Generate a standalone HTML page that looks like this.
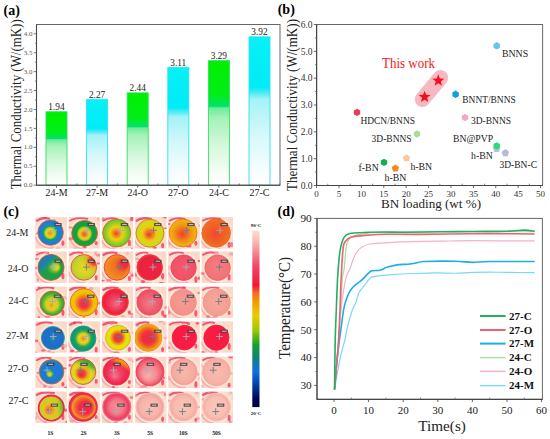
<!DOCTYPE html><html><head><meta charset="utf-8"><style>html,body{margin:0;padding:0;background:#fff;}svg{display:block;font-family:"Liberation Serif",serif;}</style></head><body><svg width="550" height="439" viewBox="0 0 550 439" font-family="Liberation Serif, serif">
<rect width="550" height="439" fill="#fff"/>
<defs>
<linearGradient id="barg" x1="0" y1="0" x2="0" y2="1"><stop offset="0" stop-color="#00f000"/><stop offset="0.28" stop-color="#00ee18"/><stop offset="0.365" stop-color="#00e070"/><stop offset="0.38" stop-color="#6cec98"/><stop offset="0.46" stop-color="#a4f2b8"/><stop offset="0.68" stop-color="#d4f8dc"/><stop offset="0.9" stop-color="#f6fdf6"/><stop offset="1" stop-color="#ffffff"/></linearGradient>
<linearGradient id="barc" x1="0" y1="0" x2="0" y2="1"><stop offset="0" stop-color="#08f0f8"/><stop offset="0.34" stop-color="#00ecf6"/><stop offset="0.37" stop-color="#40eaf4"/><stop offset="0.42" stop-color="#a4f2f8"/><stop offset="0.66" stop-color="#d6f8fa"/><stop offset="0.9" stop-color="#f6fdfe"/><stop offset="1" stop-color="#ffffff"/></linearGradient>
</defs>
<rect x="46.00" y="111.77" width="21.0" height="73.43" fill="url(#barg)" stroke="#30e060" stroke-width="0.9"/>
<text x="56.50" y="110.07" font-size="9.3" text-anchor="middle" fill="#222" font-weight="normal" >1.94</text>
<text x="56.50" y="196.30" font-size="10" text-anchor="middle" fill="#222" font-weight="normal" >24-M</text>
<line x1="56.50" y1="185.2" x2="56.50" y2="187.8" stroke="#444" stroke-width="0.8"/>
<line x1="76.80" y1="185.2" x2="76.80" y2="183.4" stroke="#444" stroke-width="0.7"/>
<rect x="86.60" y="99.28" width="21.0" height="85.92" fill="url(#barc)" stroke="#30e0f0" stroke-width="0.9"/>
<text x="97.10" y="97.58" font-size="9.3" text-anchor="middle" fill="#222" font-weight="normal" >2.27</text>
<text x="97.10" y="196.30" font-size="10" text-anchor="middle" fill="#222" font-weight="normal" >27-M</text>
<line x1="97.10" y1="185.2" x2="97.10" y2="187.8" stroke="#444" stroke-width="0.8"/>
<line x1="117.40" y1="185.2" x2="117.40" y2="183.4" stroke="#444" stroke-width="0.7"/>
<rect x="127.20" y="92.85" width="21.0" height="92.35" fill="url(#barg)" stroke="#30e060" stroke-width="0.9"/>
<text x="137.70" y="91.15" font-size="9.3" text-anchor="middle" fill="#222" font-weight="normal" >2.44</text>
<text x="137.70" y="196.30" font-size="10" text-anchor="middle" fill="#222" font-weight="normal" >24-O</text>
<line x1="137.70" y1="185.2" x2="137.70" y2="187.8" stroke="#444" stroke-width="0.8"/>
<line x1="158.00" y1="185.2" x2="158.00" y2="183.4" stroke="#444" stroke-width="0.7"/>
<rect x="167.80" y="67.49" width="21.0" height="117.71" fill="url(#barc)" stroke="#30e0f0" stroke-width="0.9"/>
<text x="178.30" y="65.79" font-size="9.3" text-anchor="middle" fill="#222" font-weight="normal" >3.11</text>
<text x="178.30" y="196.30" font-size="10" text-anchor="middle" fill="#222" font-weight="normal" >27-O</text>
<line x1="178.30" y1="185.2" x2="178.30" y2="187.8" stroke="#444" stroke-width="0.8"/>
<line x1="198.60" y1="185.2" x2="198.60" y2="183.4" stroke="#444" stroke-width="0.7"/>
<rect x="208.40" y="60.67" width="21.0" height="124.53" fill="url(#barg)" stroke="#30e060" stroke-width="0.9"/>
<text x="218.90" y="58.97" font-size="9.3" text-anchor="middle" fill="#222" font-weight="normal" >3.29</text>
<text x="218.90" y="196.30" font-size="10" text-anchor="middle" fill="#222" font-weight="normal" >24-C</text>
<line x1="218.90" y1="185.2" x2="218.90" y2="187.8" stroke="#444" stroke-width="0.8"/>
<line x1="239.20" y1="185.2" x2="239.20" y2="183.4" stroke="#444" stroke-width="0.7"/>
<rect x="249.00" y="36.83" width="21.0" height="148.37" fill="url(#barc)" stroke="#30e0f0" stroke-width="0.9"/>
<text x="259.50" y="35.13" font-size="9.3" text-anchor="middle" fill="#222" font-weight="normal" >3.92</text>
<text x="259.50" y="196.30" font-size="10" text-anchor="middle" fill="#222" font-weight="normal" >27-C</text>
<line x1="259.50" y1="185.2" x2="259.50" y2="187.8" stroke="#444" stroke-width="0.8"/>
<line x1="279.80" y1="185.2" x2="279.80" y2="183.4" stroke="#444" stroke-width="0.7"/>
<rect x="36.5" y="24.5" width="243.5" height="160.7" fill="none" stroke="#666" stroke-width="1"/>
<line x1="36.5" y1="24.5" x2="36.5" y2="185.2" stroke="#444" stroke-width="1.1"/>
<line x1="36.5" y1="185.2" x2="280.0" y2="185.2" stroke="#444" stroke-width="1.1"/>
<line x1="33.7" y1="185.20" x2="36.5" y2="185.20" stroke="#555" stroke-width="0.8"/>
<text x="32.50" y="187.30" font-size="7" text-anchor="end" fill="#555" font-weight="normal" >0.0</text>
<line x1="34.9" y1="175.74" x2="36.5" y2="175.74" stroke="#666" stroke-width="0.7"/>
<line x1="33.7" y1="166.27" x2="36.5" y2="166.27" stroke="#555" stroke-width="0.8"/>
<text x="32.50" y="168.37" font-size="7" text-anchor="end" fill="#555" font-weight="normal" >0.5</text>
<line x1="34.9" y1="156.81" x2="36.5" y2="156.81" stroke="#666" stroke-width="0.7"/>
<line x1="33.7" y1="147.35" x2="36.5" y2="147.35" stroke="#555" stroke-width="0.8"/>
<text x="32.50" y="149.45" font-size="7" text-anchor="end" fill="#555" font-weight="normal" >1.0</text>
<line x1="34.9" y1="137.89" x2="36.5" y2="137.89" stroke="#666" stroke-width="0.7"/>
<line x1="33.7" y1="128.42" x2="36.5" y2="128.42" stroke="#555" stroke-width="0.8"/>
<text x="32.50" y="130.52" font-size="7" text-anchor="end" fill="#555" font-weight="normal" >1.5</text>
<line x1="34.9" y1="118.96" x2="36.5" y2="118.96" stroke="#666" stroke-width="0.7"/>
<line x1="33.7" y1="109.50" x2="36.5" y2="109.50" stroke="#555" stroke-width="0.8"/>
<text x="32.50" y="111.60" font-size="7" text-anchor="end" fill="#555" font-weight="normal" >2.0</text>
<line x1="34.9" y1="100.04" x2="36.5" y2="100.04" stroke="#666" stroke-width="0.7"/>
<line x1="33.7" y1="90.57" x2="36.5" y2="90.57" stroke="#555" stroke-width="0.8"/>
<text x="32.50" y="92.67" font-size="7" text-anchor="end" fill="#555" font-weight="normal" >2.5</text>
<line x1="34.9" y1="81.11" x2="36.5" y2="81.11" stroke="#666" stroke-width="0.7"/>
<line x1="33.7" y1="71.65" x2="36.5" y2="71.65" stroke="#555" stroke-width="0.8"/>
<text x="32.50" y="73.75" font-size="7" text-anchor="end" fill="#555" font-weight="normal" >3.0</text>
<line x1="34.9" y1="62.19" x2="36.5" y2="62.19" stroke="#666" stroke-width="0.7"/>
<line x1="33.7" y1="52.72" x2="36.5" y2="52.72" stroke="#555" stroke-width="0.8"/>
<text x="32.50" y="54.82" font-size="7" text-anchor="end" fill="#555" font-weight="normal" >3.5</text>
<line x1="34.9" y1="43.26" x2="36.5" y2="43.26" stroke="#666" stroke-width="0.7"/>
<line x1="33.7" y1="33.80" x2="36.5" y2="33.80" stroke="#555" stroke-width="0.8"/>
<text x="32.50" y="35.90" font-size="7" text-anchor="end" fill="#555" font-weight="normal" >4.0</text>
<text x="3.50" y="14.50" font-size="14" text-anchor="start" fill="#000" font-weight="bold" >(a)</text>
<text transform="translate(20.9,104.3) rotate(-90)" font-size="15.5" text-anchor="middle" fill="#222" textLength="170" lengthAdjust="spacingAndGlyphs">Thermal Conductivity (W/(mK))</text>
<rect x="316.6" y="24.5" width="226.0" height="161.0" fill="none" stroke="#666" stroke-width="1"/>
<line x1="316.6" y1="24.5" x2="316.6" y2="185.5" stroke="#444" stroke-width="1.1"/>
<line x1="316.6" y1="185.5" x2="542.6" y2="185.5" stroke="#444" stroke-width="1.1"/>
<line x1="313.8" y1="185.50" x2="316.6" y2="185.50" stroke="#444" stroke-width="0.8"/>
<text x="312.60" y="188.70" font-size="9.5" text-anchor="end" fill="#333" font-weight="normal" >0.0</text>
<line x1="314.90000000000003" y1="172.09" x2="316.6" y2="172.09" stroke="#555" stroke-width="0.7"/>
<line x1="313.8" y1="158.67" x2="316.6" y2="158.67" stroke="#444" stroke-width="0.8"/>
<text x="312.60" y="161.87" font-size="9.5" text-anchor="end" fill="#333" font-weight="normal" >1.0</text>
<line x1="314.90000000000003" y1="145.25" x2="316.6" y2="145.25" stroke="#555" stroke-width="0.7"/>
<line x1="313.8" y1="131.84" x2="316.6" y2="131.84" stroke="#444" stroke-width="0.8"/>
<text x="312.60" y="135.04" font-size="9.5" text-anchor="end" fill="#333" font-weight="normal" >2.0</text>
<line x1="314.90000000000003" y1="118.43" x2="316.6" y2="118.43" stroke="#555" stroke-width="0.7"/>
<line x1="313.8" y1="105.01" x2="316.6" y2="105.01" stroke="#444" stroke-width="0.8"/>
<text x="312.60" y="108.21" font-size="9.5" text-anchor="end" fill="#333" font-weight="normal" >3.0</text>
<line x1="314.90000000000003" y1="91.59" x2="316.6" y2="91.59" stroke="#555" stroke-width="0.7"/>
<line x1="313.8" y1="78.18" x2="316.6" y2="78.18" stroke="#444" stroke-width="0.8"/>
<text x="312.60" y="81.38" font-size="9.5" text-anchor="end" fill="#333" font-weight="normal" >4.0</text>
<line x1="314.90000000000003" y1="64.77" x2="316.6" y2="64.77" stroke="#555" stroke-width="0.7"/>
<line x1="313.8" y1="51.35" x2="316.6" y2="51.35" stroke="#444" stroke-width="0.8"/>
<text x="312.60" y="54.55" font-size="9.5" text-anchor="end" fill="#333" font-weight="normal" >5.0</text>
<line x1="314.90000000000003" y1="37.94" x2="316.6" y2="37.94" stroke="#555" stroke-width="0.7"/>
<line x1="313.8" y1="24.52" x2="316.6" y2="24.52" stroke="#444" stroke-width="0.8"/>
<text x="312.60" y="27.72" font-size="9.5" text-anchor="end" fill="#333" font-weight="normal" >6.0</text>
<line x1="316.60" y1="185.5" x2="316.60" y2="188.1" stroke="#444" stroke-width="0.8"/>
<text x="316.60" y="196.60" font-size="9" text-anchor="middle" fill="#333" font-weight="normal" >0</text>
<line x1="327.80" y1="185.5" x2="327.80" y2="183.7" stroke="#555" stroke-width="0.7"/>
<line x1="339.00" y1="185.5" x2="339.00" y2="188.1" stroke="#444" stroke-width="0.8"/>
<text x="339.00" y="196.60" font-size="9" text-anchor="middle" fill="#333" font-weight="normal" >5</text>
<line x1="350.20" y1="185.5" x2="350.20" y2="183.7" stroke="#555" stroke-width="0.7"/>
<line x1="361.40" y1="185.5" x2="361.40" y2="188.1" stroke="#444" stroke-width="0.8"/>
<text x="361.40" y="196.60" font-size="9" text-anchor="middle" fill="#333" font-weight="normal" >10</text>
<line x1="372.60" y1="185.5" x2="372.60" y2="183.7" stroke="#555" stroke-width="0.7"/>
<line x1="383.80" y1="185.5" x2="383.80" y2="188.1" stroke="#444" stroke-width="0.8"/>
<text x="383.80" y="196.60" font-size="9" text-anchor="middle" fill="#333" font-weight="normal" >15</text>
<line x1="395.00" y1="185.5" x2="395.00" y2="183.7" stroke="#555" stroke-width="0.7"/>
<line x1="406.20" y1="185.5" x2="406.20" y2="188.1" stroke="#444" stroke-width="0.8"/>
<text x="406.20" y="196.60" font-size="9" text-anchor="middle" fill="#333" font-weight="normal" >20</text>
<line x1="417.40" y1="185.5" x2="417.40" y2="183.7" stroke="#555" stroke-width="0.7"/>
<line x1="428.60" y1="185.5" x2="428.60" y2="188.1" stroke="#444" stroke-width="0.8"/>
<text x="428.60" y="196.60" font-size="9" text-anchor="middle" fill="#333" font-weight="normal" >25</text>
<line x1="439.80" y1="185.5" x2="439.80" y2="183.7" stroke="#555" stroke-width="0.7"/>
<line x1="451.00" y1="185.5" x2="451.00" y2="188.1" stroke="#444" stroke-width="0.8"/>
<text x="451.00" y="196.60" font-size="9" text-anchor="middle" fill="#333" font-weight="normal" >30</text>
<line x1="462.20" y1="185.5" x2="462.20" y2="183.7" stroke="#555" stroke-width="0.7"/>
<line x1="473.40" y1="185.5" x2="473.40" y2="188.1" stroke="#444" stroke-width="0.8"/>
<text x="473.40" y="196.60" font-size="9" text-anchor="middle" fill="#333" font-weight="normal" >35</text>
<line x1="484.60" y1="185.5" x2="484.60" y2="183.7" stroke="#555" stroke-width="0.7"/>
<line x1="495.80" y1="185.5" x2="495.80" y2="188.1" stroke="#444" stroke-width="0.8"/>
<text x="495.80" y="196.60" font-size="9" text-anchor="middle" fill="#333" font-weight="normal" >40</text>
<line x1="507.00" y1="185.5" x2="507.00" y2="183.7" stroke="#555" stroke-width="0.7"/>
<line x1="518.20" y1="185.5" x2="518.20" y2="188.1" stroke="#444" stroke-width="0.8"/>
<text x="518.20" y="196.60" font-size="9" text-anchor="middle" fill="#333" font-weight="normal" >45</text>
<line x1="529.40" y1="185.5" x2="529.40" y2="183.7" stroke="#555" stroke-width="0.7"/>
<line x1="540.60" y1="185.5" x2="540.60" y2="188.1" stroke="#444" stroke-width="0.8"/>
<text x="540.60" y="196.60" font-size="9" text-anchor="middle" fill="#333" font-weight="normal" >50</text>
<text x="277.70" y="14.40" font-size="14" text-anchor="start" fill="#000" font-weight="bold" >(b)</text>
<text transform="translate(296.8,105) rotate(-90)" font-size="15.5" text-anchor="middle" fill="#222" textLength="172" lengthAdjust="spacingAndGlyphs">Thermal Conductivity (W/(mK))</text>
<text x="431" y="208" font-size="13.5" text-anchor="middle" fill="#222" textLength="100" lengthAdjust="spacingAndGlyphs">BN loading (wt %)</text>
<rect x="409.65" y="80.90" width="43.6" height="15.4" rx="7.7" fill="#f8b8c2" transform="rotate(-50.13 431.45 88.60)"/>
<polygon points="438.30,74.30 439.86,78.46 444.29,78.65 440.82,81.42 442.00,85.70 438.30,83.25 434.60,85.70 435.78,81.42 432.31,78.65 436.74,78.46" fill="#f0101e"/>
<polygon points="424.60,90.70 426.16,94.86 430.59,95.05 427.12,97.82 428.30,102.10 424.60,99.65 420.90,102.10 422.08,97.82 418.61,95.05 423.04,94.86" fill="#f0101e"/>
<text x="408.50" y="68.20" font-size="14" text-anchor="middle" fill="#f01818" font-weight="normal" textLength="53" lengthAdjust="spacingAndGlyphs">This work</text>
<polygon points="496.70,49.50 493.50,47.65 493.50,43.95 496.70,42.10 499.90,43.95 499.90,47.65" fill="#60c8ee"/>
<text x="502.00" y="56.50" font-size="9.8" text-anchor="start" fill="#222" font-weight="normal" >BNNS</text>
<polygon points="455.60,98.00 452.40,96.15 452.40,92.45 455.60,90.60 458.80,92.45 458.80,96.15" fill="#10a0e0"/>
<text x="462.30" y="103.00" font-size="9.8" text-anchor="start" fill="#222" font-weight="normal" textLength="53.4" lengthAdjust="spacingAndGlyphs">BNNT/BNNS</text>
<polygon points="357.00,116.10 353.80,114.25 353.80,110.55 357.00,108.70 360.20,110.55 360.20,114.25" fill="#f03858"/>
<text x="360.40" y="123.60" font-size="9.8" text-anchor="start" fill="#222" font-weight="normal" textLength="54.6" lengthAdjust="spacingAndGlyphs">HDCN/BNNS</text>
<polygon points="417.00,137.70 413.80,135.85 413.80,132.15 417.00,130.30 420.20,132.15 420.20,135.85" fill="#a8dc98"/>
<text x="371.60" y="141.60" font-size="9.8" text-anchor="start" fill="#222" font-weight="normal" textLength="40" lengthAdjust="spacingAndGlyphs">3D-BNNS</text>
<polygon points="465.00,121.20 461.80,119.35 461.80,115.65 465.00,113.80 468.20,115.65 468.20,119.35" fill="#f4a8c8"/>
<text x="471.00" y="123.60" font-size="9.8" text-anchor="start" fill="#222" font-weight="normal" textLength="40" lengthAdjust="spacingAndGlyphs">3D-BNNS</text>
<polygon points="384.00,166.10 380.80,164.25 380.80,160.55 384.00,158.70 387.20,160.55 387.20,164.25" fill="#10b050"/>
<text x="358.60" y="171.00" font-size="9.8" text-anchor="start" fill="#222" font-weight="normal" >f-BN</text>
<polygon points="395.40,164.40 399.11,167.09 397.69,171.46 393.11,171.46 391.69,167.09" fill="#f58a20"/>
<text x="384.60" y="181.00" font-size="9.8" text-anchor="start" fill="#222" font-weight="normal" >h-BN</text>
<polygon points="406.40,154.30 410.11,156.99 408.69,161.36 404.11,161.36 402.69,156.99" fill="#f8c8a0"/>
<text x="410.40" y="170.00" font-size="9.8" text-anchor="start" fill="#222" font-weight="normal" >h-BN</text>
<polygon points="496.70,144.90 500.41,147.59 498.99,151.96 494.41,151.96 492.99,147.59" fill="#a8c4e8"/>
<polygon points="496.70,149.60 493.50,147.75 493.50,144.05 496.70,142.20 499.90,144.05 499.90,147.75" fill="#30d878"/>
<text x="453.00" y="142.00" font-size="9.8" text-anchor="start" fill="#222" font-weight="normal" textLength="40" lengthAdjust="spacingAndGlyphs">BN@PVP</text>
<text x="471.00" y="159.00" font-size="9.8" text-anchor="start" fill="#222" font-weight="normal" >h-BN</text>
<polygon points="505.40,149.10 509.11,151.79 507.69,156.16 503.11,156.16 501.69,151.79" fill="#b8b8e0"/>
<text x="499.50" y="168.20" font-size="9.8" text-anchor="start" fill="#222" font-weight="normal" textLength="37.5" lengthAdjust="spacingAndGlyphs">3D-BN-C</text>
<rect x="317.0" y="218.4" width="225.39999999999998" height="180.99999999999997" fill="none" stroke="#666" stroke-width="1"/>
<line x1="317.0" y1="218.4" x2="317.0" y2="399.4" stroke="#444" stroke-width="1.1"/>
<line x1="317.0" y1="399.4" x2="542.4" y2="399.4" stroke="#444" stroke-width="1.1"/>
<line x1="314.2" y1="385.38" x2="317.0" y2="385.38" stroke="#444" stroke-width="0.8"/>
<text x="311.70" y="389.18" font-size="11.2" text-anchor="end" fill="#222" font-weight="normal" >30</text>
<line x1="315.3" y1="371.47" x2="317.0" y2="371.47" stroke="#555" stroke-width="0.7"/>
<line x1="314.2" y1="357.55" x2="317.0" y2="357.55" stroke="#444" stroke-width="0.8"/>
<text x="311.70" y="361.35" font-size="11.2" text-anchor="end" fill="#222" font-weight="normal" >40</text>
<line x1="315.3" y1="343.63" x2="317.0" y2="343.63" stroke="#555" stroke-width="0.7"/>
<line x1="314.2" y1="329.72" x2="317.0" y2="329.72" stroke="#444" stroke-width="0.8"/>
<text x="311.70" y="333.52" font-size="11.2" text-anchor="end" fill="#222" font-weight="normal" >50</text>
<line x1="315.3" y1="315.81" x2="317.0" y2="315.81" stroke="#555" stroke-width="0.7"/>
<line x1="314.2" y1="301.89" x2="317.0" y2="301.89" stroke="#444" stroke-width="0.8"/>
<text x="311.70" y="305.69" font-size="11.2" text-anchor="end" fill="#222" font-weight="normal" >60</text>
<line x1="315.3" y1="287.98" x2="317.0" y2="287.98" stroke="#555" stroke-width="0.7"/>
<line x1="314.2" y1="274.06" x2="317.0" y2="274.06" stroke="#444" stroke-width="0.8"/>
<text x="311.70" y="277.86" font-size="11.2" text-anchor="end" fill="#222" font-weight="normal" >70</text>
<line x1="315.3" y1="260.14" x2="317.0" y2="260.14" stroke="#555" stroke-width="0.7"/>
<line x1="314.2" y1="246.23" x2="317.0" y2="246.23" stroke="#444" stroke-width="0.8"/>
<text x="311.70" y="250.03" font-size="11.2" text-anchor="end" fill="#222" font-weight="normal" >80</text>
<line x1="315.3" y1="232.31" x2="317.0" y2="232.31" stroke="#555" stroke-width="0.7"/>
<line x1="314.2" y1="218.40" x2="317.0" y2="218.40" stroke="#444" stroke-width="0.8"/>
<text x="311.70" y="222.20" font-size="11.2" text-anchor="end" fill="#222" font-weight="normal" >90</text>
<line x1="316.70" y1="399.4" x2="316.70" y2="397.59999999999997" stroke="#555" stroke-width="0.7"/>
<line x1="334.00" y1="399.4" x2="334.00" y2="402.0" stroke="#444" stroke-width="0.8"/>
<text x="334.00" y="414.40" font-size="11" text-anchor="middle" fill="#222" font-weight="normal" >0</text>
<line x1="351.30" y1="399.4" x2="351.30" y2="397.59999999999997" stroke="#555" stroke-width="0.7"/>
<line x1="368.60" y1="399.4" x2="368.60" y2="402.0" stroke="#444" stroke-width="0.8"/>
<text x="368.60" y="414.40" font-size="11" text-anchor="middle" fill="#222" font-weight="normal" >10</text>
<line x1="385.90" y1="399.4" x2="385.90" y2="397.59999999999997" stroke="#555" stroke-width="0.7"/>
<line x1="403.20" y1="399.4" x2="403.20" y2="402.0" stroke="#444" stroke-width="0.8"/>
<text x="403.20" y="414.40" font-size="11" text-anchor="middle" fill="#222" font-weight="normal" >20</text>
<line x1="420.50" y1="399.4" x2="420.50" y2="397.59999999999997" stroke="#555" stroke-width="0.7"/>
<line x1="437.80" y1="399.4" x2="437.80" y2="402.0" stroke="#444" stroke-width="0.8"/>
<text x="437.80" y="414.40" font-size="11" text-anchor="middle" fill="#222" font-weight="normal" >30</text>
<line x1="455.10" y1="399.4" x2="455.10" y2="397.59999999999997" stroke="#555" stroke-width="0.7"/>
<line x1="472.40" y1="399.4" x2="472.40" y2="402.0" stroke="#444" stroke-width="0.8"/>
<text x="472.40" y="414.40" font-size="11" text-anchor="middle" fill="#222" font-weight="normal" >40</text>
<line x1="489.70" y1="399.4" x2="489.70" y2="397.59999999999997" stroke="#555" stroke-width="0.7"/>
<line x1="507.00" y1="399.4" x2="507.00" y2="402.0" stroke="#444" stroke-width="0.8"/>
<text x="507.00" y="414.40" font-size="11" text-anchor="middle" fill="#222" font-weight="normal" >50</text>
<line x1="524.30" y1="399.4" x2="524.30" y2="397.59999999999997" stroke="#555" stroke-width="0.7"/>
<line x1="541.60" y1="399.4" x2="541.60" y2="402.0" stroke="#444" stroke-width="0.8"/>
<text x="541.60" y="414.40" font-size="11" text-anchor="middle" fill="#222" font-weight="normal" >60</text>
<text x="277.60" y="216.00" font-size="14" text-anchor="start" fill="#000" font-weight="bold" >(d)</text>
<text transform="translate(290.4,308) rotate(-90)" font-size="15.8" text-anchor="middle" fill="#222" textLength="102" lengthAdjust="spacingAndGlyphs">Temperature(°C)</text>
<text x="442.1" y="431.2" font-size="15" text-anchor="middle" fill="#222" textLength="47.5" lengthAdjust="spacingAndGlyphs">Time(s)</text>
<path d="M334.52,389.55 C335.12,386.08 337.09,374.48 338.15,368.68 C339.22,362.88 339.81,359.54 340.92,354.77 C342.03,349.99 343.58,345.12 344.80,340.02 C346.01,334.91 346.93,329.16 348.19,324.15 C349.44,319.14 351.01,313.67 352.34,309.96 C353.66,306.25 355.08,304.72 356.14,301.89 C357.21,299.06 357.61,295.35 358.70,292.98 C359.80,290.62 361.30,289.60 362.72,287.70 C364.14,285.79 365.95,283.20 367.22,281.57 C368.48,279.95 369.06,278.84 370.33,277.96 C371.60,277.07 371.19,276.84 374.83,276.29 C378.46,275.73 385.44,275.08 392.13,274.62 C398.82,274.15 407.35,273.78 414.96,273.50 C422.58,273.23 431.11,272.99 437.80,272.95 C444.49,272.90 449.33,273.32 455.10,273.23 C460.87,273.13 466.63,272.58 472.40,272.39 C478.17,272.20 483.93,272.11 489.70,272.11 C495.47,272.11 499.50,272.30 507.00,272.39 C514.50,272.48 530.07,272.62 534.68,272.67" fill="none" stroke="#78d8f8" stroke-width="1.2" stroke-linejoin="round"/>
<path d="M334.52,389.55 C334.89,385.15 336.10,371.05 336.77,363.12 C337.43,355.18 337.82,350.50 338.50,341.97 C339.17,333.43 339.65,322.25 340.82,311.91 C341.98,301.57 343.97,287.05 345.49,279.90 C347.00,272.76 348.60,272.58 349.92,269.05 C351.23,265.53 352.22,261.58 353.38,258.75 C354.53,255.92 355.39,254.02 356.84,252.07 C358.28,250.13 359.83,248.41 362.03,247.06 C364.22,245.72 366.18,244.70 369.98,244.00 C373.79,243.31 379.33,243.26 384.86,242.89 C390.40,242.52 394.38,242.06 403.20,241.78 C412.02,241.50 426.27,241.41 437.80,241.22 C449.33,241.04 460.87,240.71 472.40,240.66 C483.93,240.62 496.62,240.90 507.00,240.94 C517.38,240.99 530.07,240.94 534.68,240.94" fill="none" stroke="#f8b0c4" stroke-width="1.2" stroke-linejoin="round"/>
<path d="M334.52,389.55 C334.95,384.22 336.13,370.49 337.11,357.55 C338.09,344.61 339.55,324.85 340.40,311.91 C341.25,298.97 341.58,287.05 342.20,279.90 C342.82,272.76 343.32,275.03 344.10,269.05 C344.89,263.07 345.36,249.48 346.91,244.00 C348.45,238.53 349.76,238.04 353.38,236.21 C356.99,234.38 363.18,233.66 368.60,233.01 C374.02,232.36 374.37,232.52 385.90,232.31 C397.43,232.11 413.00,231.85 437.80,231.76 C462.60,231.67 518.53,231.76 534.68,231.76" fill="none" stroke="#a8dca0" stroke-width="1.2" stroke-linejoin="round"/>
<path d="M334.52,389.55 C334.89,385.15 335.99,371.05 336.77,363.12 C337.55,355.18 338.38,348.46 339.19,341.97 C340.00,335.47 340.88,329.49 341.61,324.15 C342.34,318.82 342.94,313.67 343.58,309.96 C344.23,306.25 344.43,305.04 345.49,301.89 C346.54,298.74 348.33,293.82 349.92,291.04 C351.50,288.25 353.05,287.00 355.00,285.19 C356.95,283.38 359.23,282.32 361.61,280.18 C363.99,278.05 367.49,273.97 369.29,272.39 C371.09,270.81 370.62,271.09 372.41,270.72 C374.19,270.35 377.48,270.77 380.02,270.16 C382.56,269.56 384.52,268.03 387.63,267.10 C390.74,266.17 395.42,265.06 398.70,264.60 C401.99,264.13 404.64,264.55 407.35,264.32 C410.06,264.09 412.20,263.67 414.96,263.21 C417.73,262.74 417.27,261.86 423.96,261.54 C430.65,261.21 447.03,261.12 455.10,261.26 C463.17,261.40 466.63,262.33 472.40,262.37 C478.17,262.42 479.32,261.68 489.70,261.54 C500.08,261.40 527.18,261.54 534.68,261.54" fill="none" stroke="#18b0e8" stroke-width="1.6" stroke-linejoin="round"/>
<path d="M334.52,389.55 C334.89,385.15 336.10,371.05 336.77,363.12 C337.43,355.18 337.96,350.82 338.50,341.97 C339.03,333.11 339.55,320.30 339.99,309.96 C340.42,299.62 340.59,290.02 341.09,279.90 C341.59,269.79 342.31,255.65 343.00,249.29 C343.68,242.94 343.84,243.82 345.21,241.78 C346.58,239.74 347.30,238.16 351.20,237.05 C355.09,235.93 362.99,235.56 368.60,235.10 C374.21,234.63 376.21,234.38 384.86,234.26 C393.51,234.15 405.91,234.50 420.50,234.40 C435.09,234.31 457.98,233.82 472.40,233.71 C486.82,233.59 496.62,233.66 507.00,233.71 C517.38,233.75 530.07,233.94 534.68,233.98" fill="none" stroke="#f06070" stroke-width="1.6" stroke-linejoin="round"/>
<path d="M334.52,389.55 C334.63,381.30 334.92,353.28 335.21,340.02 C335.51,326.75 335.90,319.98 336.28,309.96 C336.66,299.94 337.09,287.74 337.49,279.90 C337.90,272.07 338.24,268.03 338.71,262.93 C339.17,257.83 339.48,253.37 340.30,249.29 C341.11,245.21 342.13,241.04 343.58,238.44 C345.04,235.84 344.85,234.73 349.02,233.71 C353.19,232.69 362.63,232.59 368.60,232.31 C374.57,232.04 379.10,232.04 384.86,232.04 C390.63,232.04 394.38,232.36 403.20,232.31 C412.02,232.27 426.27,231.90 437.80,231.76 C449.33,231.62 460.87,231.57 472.40,231.48 C483.93,231.39 498.35,231.43 507.00,231.20 C515.65,230.97 519.69,230.09 524.30,230.09 C528.91,230.09 532.95,231.02 534.68,231.20" fill="none" stroke="#20b060" stroke-width="1.6" stroke-linejoin="round"/>
<line x1="480" y1="316" x2="505.6" y2="316" stroke="#20b060" stroke-width="2.0"/>
<text x="509.00" y="319.80" font-size="11" text-anchor="start" fill="#111" font-weight="bold" >27-C</text>
<line x1="480" y1="330" x2="505.6" y2="330" stroke="#f06070" stroke-width="2.0"/>
<text x="509.00" y="333.80" font-size="11" text-anchor="start" fill="#111" font-weight="bold" >27-O</text>
<line x1="480" y1="343.6" x2="505.6" y2="343.6" stroke="#18b0e8" stroke-width="2.0"/>
<text x="509.00" y="347.40" font-size="11" text-anchor="start" fill="#111" font-weight="bold" >27-M</text>
<line x1="480" y1="357.6" x2="505.6" y2="357.6" stroke="#a8dca0" stroke-width="1.4"/>
<text x="509.00" y="361.40" font-size="11" text-anchor="start" fill="#111" font-weight="bold" >24-C</text>
<line x1="480" y1="371.4" x2="505.6" y2="371.4" stroke="#f8b0c4" stroke-width="1.4"/>
<text x="509.00" y="375.20" font-size="11" text-anchor="start" fill="#111" font-weight="bold" >24-O</text>
<line x1="480" y1="385.6" x2="505.6" y2="385.6" stroke="#78d8f8" stroke-width="1.4"/>
<text x="509.00" y="389.40" font-size="11" text-anchor="start" fill="#111" font-weight="bold" >24-M</text>
<text x="3.40" y="216.40" font-size="14" text-anchor="start" fill="#000" font-weight="bold" >(c)</text>
<defs><filter id="bl" x="-20%" y="-20%" width="140%" height="140%"><feGaussianBlur stdDeviation="0.7"/></filter><filter id="bl2" x="-20%" y="-20%" width="140%" height="140%"><feGaussianBlur stdDeviation="0.4"/></filter>
<radialGradient id="tg00" cx="0.5" cy="0.5" r="0.5" fx="0.47" fy="0.53"><stop offset="0" stop-color="#f08c20"/><stop offset="0.14" stop-color="#f0a820"/><stop offset="0.3" stop-color="#e8d820"/><stop offset="0.44" stop-color="#90c830"/><stop offset="0.52" stop-color="#18a840"/><stop offset="0.6" stop-color="#1a90a8"/><stop offset="0.66" stop-color="#1a80d4"/><stop offset="1" stop-color="#1a7cd4"/></radialGradient>
<radialGradient id="tg01" cx="0.5" cy="0.5" r="0.5" fx="0.49" fy="0.54"><stop offset="0" stop-color="#f05420"/><stop offset="0.18" stop-color="#f08820"/><stop offset="0.36" stop-color="#f0d020"/><stop offset="0.5" stop-color="#a8c828"/><stop offset="0.62" stop-color="#18a040"/><stop offset="1" stop-color="#10a040"/></radialGradient>
<radialGradient id="tg02" cx="0.5" cy="0.5" r="0.5" fx="0.48" fy="0.52"><stop offset="0" stop-color="#f04020"/><stop offset="0.18" stop-color="#f07c20"/><stop offset="0.45" stop-color="#f0d010"/><stop offset="0.68" stop-color="#a8d020"/><stop offset="1" stop-color="#60c030"/></radialGradient>
<radialGradient id="tg03" cx="0.5" cy="0.5" r="0.5" fx="0.46" fy="0.55"><stop offset="0" stop-color="#f03040"/><stop offset="0.25" stop-color="#f07c20"/><stop offset="0.5" stop-color="#f0c810"/><stop offset="0.75" stop-color="#d8d818"/><stop offset="1" stop-color="#c0d820"/></radialGradient>
<radialGradient id="tg04" cx="0.5" cy="0.5" r="0.5" fx="0.46" fy="0.55"><stop offset="0" stop-color="#f04030"/><stop offset="0.35" stop-color="#f07020"/><stop offset="0.7" stop-color="#f0a010"/><stop offset="1" stop-color="#f0b810"/></radialGradient>
<radialGradient id="tg05" cx="0.5" cy="0.5" r="0.5" fx="0.48" fy="0.55"><stop offset="0" stop-color="#f04830"/><stop offset="0.5" stop-color="#f05c28"/><stop offset="1" stop-color="#f07028"/></radialGradient>
<radialGradient id="tg10" cx="0.5" cy="0.5" r="0.5" fx="0.76" fy="0.5"><stop offset="0" stop-color="#e8d820"/><stop offset="0.2" stop-color="#c0d028"/><stop offset="0.38" stop-color="#60b438"/><stop offset="0.55" stop-color="#20a040"/><stop offset="0.8" stop-color="#18a048"/><stop offset="1" stop-color="#20a048"/></radialGradient>
<linearGradient id="to10" x1="0.05" y1="0.05" x2="0.6" y2="0.62"><stop offset="0" stop-color="#1a7cc0" stop-opacity="1"/><stop offset="0.45" stop-color="#1a80b0" stop-opacity="1"/><stop offset="0.75" stop-color="#1a90a0" stop-opacity="0"/></linearGradient>
<radialGradient id="tg11" cx="0.5" cy="0.5" r="0.5" fx="0.55" fy="0.55"><stop offset="0" stop-color="#e8d820"/><stop offset="0.5" stop-color="#d8d428"/><stop offset="1" stop-color="#b0d030"/></radialGradient>
<radialGradient id="to11" cx="0.92" cy="0.2" r="0.5"><stop offset="0" stop-color="#f01848" stop-opacity="1"/><stop offset="0.35" stop-color="#f04038" stop-opacity="1"/><stop offset="0.6" stop-color="#f0a020" stop-opacity="0.8"/><stop offset="1" stop-color="#f0c020" stop-opacity="0"/></radialGradient>
<radialGradient id="tg12" cx="0.5" cy="0.5" r="0.5" fx="0.92" fy="0.3"><stop offset="0" stop-color="#f02048"/><stop offset="0.3" stop-color="#f03040"/><stop offset="0.55" stop-color="#f07020"/><stop offset="1" stop-color="#f09420"/></radialGradient>
<radialGradient id="tg13" cx="0.5" cy="0.5" r="0.5" fx="0.6" fy="0.6"><stop offset="0" stop-color="#f02040"/><stop offset="0.85" stop-color="#ea2040"/><stop offset="1" stop-color="#f04038"/></radialGradient>
<radialGradient id="tg14" cx="0.5" cy="0.5" r="0.5" fx="0.5" fy="0.5"><stop offset="0" stop-color="#f25a6c"/><stop offset="1" stop-color="#f05066"/></radialGradient>
<radialGradient id="tg15" cx="0.5" cy="0.5" r="0.5" fx="0.5" fy="0.5"><stop offset="0" stop-color="#f48080"/><stop offset="1" stop-color="#f27076"/></radialGradient>
<radialGradient id="tg20" cx="0.5" cy="0.5" r="0.5" fx="0.46" fy="0.6"><stop offset="0" stop-color="#f09020"/><stop offset="0.25" stop-color="#f0c820"/><stop offset="0.5" stop-color="#c8d028"/><stop offset="0.75" stop-color="#60b830"/><stop offset="1" stop-color="#20a030"/></radialGradient>
<radialGradient id="tg21" cx="0.5" cy="0.5" r="0.5" fx="0.5" fy="0.58"><stop offset="0" stop-color="#f02850"/><stop offset="0.3" stop-color="#f03848"/><stop offset="0.5" stop-color="#f07828"/><stop offset="0.72" stop-color="#f0c000"/><stop offset="1" stop-color="#f0c800"/></radialGradient>
<radialGradient id="tg22" cx="0.5" cy="0.5" r="0.5" fx="0.55" fy="0.58"><stop offset="0" stop-color="#f26c88"/><stop offset="0.45" stop-color="#f04060"/><stop offset="0.85" stop-color="#f02040"/><stop offset="1" stop-color="#f03040"/></radialGradient>
<radialGradient id="tg23" cx="0.5" cy="0.5" r="0.5" fx="0.5" fy="0.55"><stop offset="0" stop-color="#f27a88"/><stop offset="0.6" stop-color="#f06070"/><stop offset="1" stop-color="#f04c64"/></radialGradient>
<radialGradient id="tg24" cx="0.5" cy="0.5" r="0.5" fx="0.5" fy="0.5"><stop offset="0" stop-color="#f49c94"/><stop offset="1" stop-color="#f4908a"/></radialGradient>
<radialGradient id="tg25" cx="0.5" cy="0.5" r="0.5" fx="0.5" fy="0.5"><stop offset="0" stop-color="#f5a89c"/><stop offset="1" stop-color="#f49c92"/></radialGradient>
<radialGradient id="tg30" cx="0.5" cy="0.5" r="0.5" fx="0.5" fy="0.5"><stop offset="0" stop-color="#40a860"/><stop offset="0.12" stop-color="#2c9090"/><stop offset="0.3" stop-color="#1c74c8"/><stop offset="1" stop-color="#1a6cd0"/></radialGradient>
<radialGradient id="tg31" cx="0.5" cy="0.5" r="0.5" fx="0.5" fy="0.5"><stop offset="0" stop-color="#f07820"/><stop offset="0.15" stop-color="#f0b020"/><stop offset="0.35" stop-color="#e8d820"/><stop offset="0.5" stop-color="#90c030"/><stop offset="0.62" stop-color="#30a840"/><stop offset="0.78" stop-color="#109880"/><stop offset="1" stop-color="#109888"/></radialGradient>
<radialGradient id="tg32" cx="0.5" cy="0.5" r="0.5" fx="0.5" fy="0.5"><stop offset="0" stop-color="#f02848"/><stop offset="0.3" stop-color="#f03840"/><stop offset="0.5" stop-color="#f09010"/><stop offset="0.68" stop-color="#e8e010"/><stop offset="1" stop-color="#e0e010"/></radialGradient>
<radialGradient id="tg33" cx="0.5" cy="0.5" r="0.5" fx="0.5" fy="0.5"><stop offset="0" stop-color="#f02848"/><stop offset="0.45" stop-color="#f03040"/><stop offset="0.72" stop-color="#f07020"/><stop offset="0.88" stop-color="#f0a018"/><stop offset="1" stop-color="#f0a818"/></radialGradient>
<radialGradient id="tg34" cx="0.5" cy="0.5" r="0.5" fx="0.5" fy="0.5"><stop offset="0" stop-color="#f81c42"/><stop offset="1" stop-color="#f81c42"/></radialGradient>
<radialGradient id="tg35" cx="0.5" cy="0.5" r="0.5" fx="0.5" fy="0.5"><stop offset="0" stop-color="#f81c42"/><stop offset="1" stop-color="#f81c42"/></radialGradient>
<radialGradient id="tg40" cx="0.5" cy="0.5" r="0.5" fx="0.4" fy="0.62"><stop offset="0" stop-color="#e8d020"/><stop offset="0.15" stop-color="#c8cc28"/><stop offset="0.25" stop-color="#40a850"/><stop offset="0.35" stop-color="#1a7cd8"/><stop offset="0.8" stop-color="#1a78d8"/><stop offset="0.95" stop-color="#1a90a0"/><stop offset="1" stop-color="#20a050"/></radialGradient>
<radialGradient id="tg41" cx="0.5" cy="0.5" r="0.5" fx="0.42" fy="0.62"><stop offset="0" stop-color="#f02040"/><stop offset="0.25" stop-color="#f04038"/><stop offset="0.45" stop-color="#f0a018"/><stop offset="0.7" stop-color="#e8d820"/><stop offset="1" stop-color="#c0d028"/></radialGradient>
<linearGradient id="to41" x1="0.75" y1="0.0" x2="0.45" y2="0.6"><stop offset="0" stop-color="#20a030" stop-opacity="1"/><stop offset="0.35" stop-color="#60b830" stop-opacity="1"/><stop offset="0.7" stop-color="#c0d028" stop-opacity="0"/></linearGradient>
<radialGradient id="tg42" cx="0.5" cy="0.5" r="0.5" fx="0.42" fy="0.68"><stop offset="0" stop-color="#f27890"/><stop offset="0.45" stop-color="#f04068"/><stop offset="0.8" stop-color="#f02850"/><stop offset="1" stop-color="#f02848"/></radialGradient>
<linearGradient id="to42" x1="0.75" y1="0.0" x2="0.45" y2="0.55"><stop offset="0" stop-color="#f0c010" stop-opacity="1"/><stop offset="0.3" stop-color="#f08820" stop-opacity="1"/><stop offset="0.6" stop-color="#f03040" stop-opacity="0"/></linearGradient>
<radialGradient id="tg43" cx="0.5" cy="0.5" r="0.5" fx="0.42" fy="0.66"><stop offset="0" stop-color="#f6b0a8"/><stop offset="0.5" stop-color="#f49098"/><stop offset="0.85" stop-color="#f26070"/><stop offset="1" stop-color="#f03858"/></radialGradient>
<radialGradient id="tg44" cx="0.5" cy="0.5" r="0.5" fx="0.5" fy="0.55"><stop offset="0" stop-color="#f6b8aa"/><stop offset="0.8" stop-color="#f5aca0"/><stop offset="1" stop-color="#f49c98"/></radialGradient>
<radialGradient id="tg45" cx="0.5" cy="0.5" r="0.5" fx="0.5" fy="0.55"><stop offset="0" stop-color="#f7bcae"/><stop offset="0.8" stop-color="#f6b2a6"/><stop offset="1" stop-color="#f5a8a0"/></radialGradient>
<radialGradient id="tg50" cx="0.5" cy="0.5" r="0.5" fx="0.38" fy="0.62"><stop offset="0" stop-color="#f03838"/><stop offset="0.2" stop-color="#f08020"/><stop offset="0.45" stop-color="#e8c020"/><stop offset="0.75" stop-color="#c8d028"/><stop offset="0.9" stop-color="#d0c828"/><stop offset="0.94" stop-color="#f04040"/><stop offset="1" stop-color="#f02848"/></radialGradient>
<linearGradient id="to50" x1="1.0" y1="0.45" x2="0.55" y2="0.5"><stop offset="0" stop-color="#60b830" stop-opacity="0"/><stop offset="0.12" stop-color="#60b830" stop-opacity="1"/><stop offset="0.7" stop-color="#a8d028" stop-opacity="0"/></linearGradient>
<radialGradient id="tg51" cx="0.5" cy="0.5" r="0.5" fx="0.64" fy="0.55"><stop offset="0" stop-color="#f02848"/><stop offset="0.45" stop-color="#f02c48"/><stop offset="0.7" stop-color="#f07028"/><stop offset="0.82" stop-color="#f0a020"/><stop offset="0.9" stop-color="#f04040"/><stop offset="1" stop-color="#f02848"/></radialGradient>
<radialGradient id="tg52" cx="0.5" cy="0.5" r="0.5" fx="0.5" fy="0.5"><stop offset="0" stop-color="#f49098"/><stop offset="0.5" stop-color="#f27888"/><stop offset="0.85" stop-color="#f03c60"/><stop offset="1" stop-color="#f25878"/></radialGradient>
<radialGradient id="tg53" cx="0.5" cy="0.5" r="0.5" fx="0.5" fy="0.5"><stop offset="0" stop-color="#f7c0b2"/><stop offset="0.7" stop-color="#f6b4a8"/><stop offset="0.9" stop-color="#f4a0a0"/><stop offset="1" stop-color="#f6b4a8"/></radialGradient>
<radialGradient id="tg54" cx="0.5" cy="0.5" r="0.5" fx="0.5" fy="0.5"><stop offset="0" stop-color="#f8c4b4"/><stop offset="0.7" stop-color="#f7bcae"/><stop offset="0.9" stop-color="#f5aaa6"/><stop offset="1" stop-color="#f7bcae"/></radialGradient>
<radialGradient id="tg55" cx="0.5" cy="0.5" r="0.5" fx="0.5" fy="0.5"><stop offset="0" stop-color="#f8c8b8"/><stop offset="0.7" stop-color="#f8c0b2"/><stop offset="0.9" stop-color="#f6aea8"/><stop offset="1" stop-color="#f8c0b2"/></radialGradient>
</defs>
<text x="28.40" y="236.00" font-size="10" text-anchor="end" fill="#222" font-weight="normal" >24-M</text>
<text x="28.40" y="271.50" font-size="10" text-anchor="end" fill="#222" font-weight="normal" >24-O</text>
<text x="28.40" y="303.90" font-size="10" text-anchor="end" fill="#222" font-weight="normal" >24-C</text>
<text x="28.40" y="338.80" font-size="10" text-anchor="end" fill="#222" font-weight="normal" >27-M</text>
<text x="28.40" y="372.10" font-size="10" text-anchor="end" fill="#222" font-weight="normal" >27-O</text>
<text x="28.40" y="404.40" font-size="10" text-anchor="end" fill="#222" font-weight="normal" >27-C</text>
<text x="50.40" y="434.80" font-size="5.5" text-anchor="middle" fill="#111" font-weight="bold" >1S</text>
<text x="83.64" y="434.80" font-size="5.5" text-anchor="middle" fill="#111" font-weight="bold" >2S</text>
<text x="116.88" y="434.80" font-size="5.5" text-anchor="middle" fill="#111" font-weight="bold" >3S</text>
<text x="150.12" y="434.80" font-size="5.5" text-anchor="middle" fill="#111" font-weight="bold" >5S</text>
<text x="183.36" y="434.80" font-size="5.5" text-anchor="middle" fill="#111" font-weight="bold" >10S</text>
<text x="216.60" y="434.80" font-size="5.5" text-anchor="middle" fill="#111" font-weight="bold" >50S</text>
<svg x="35.20" y="217.10" width="31.7" height="31.6" viewBox="0 0 31.7 31.6" overflow="hidden">
<rect width="31.7" height="31.6" fill="#fcd8c6"/>
<g filter="url(#bl)">
<circle cx="15.40" cy="15.50" r="14.30" fill="none" stroke="#fce4d4" stroke-width="2.4" opacity="0.9"/>
<path d="M0.2,19.5 A15.7,15.7 0 0 0 17.4,31.0" fill="none" stroke="#f4a0a8" stroke-width="1.6" opacity="0.8"/>
<path d="M1,4 Q7,-0.5 14.7,1.8" fill="none" stroke="#f03c64" stroke-width="2.0" opacity="0.85"/>
<ellipse cx="27.7" cy="26.1" rx="1.5" ry="2.9" fill="#f03860" opacity="0.8"/>
<ellipse cx="19.2" cy="2.7" rx="1.5" ry="1.0" fill="#f6a8a8" opacity="0.7"/>
<ellipse cx="17.1" cy="30.2" rx="2.3" ry="1.0" fill="#f6a8a8" opacity="0.7"/>
<ellipse cx="2.6" cy="16.5" rx="2.3" ry="0.9" fill="#f26878" opacity="0.7"/>
<ellipse cx="9.6" cy="0.1" rx="1.9" ry="1.5" fill="#f03458" opacity="0.7"/>
<ellipse cx="22.6" cy="31.4" rx="2.5" ry="1.4" fill="#f6a8a8" opacity="0.7"/>
</g>
<g filter="url(#bl2)"><circle cx="15.40" cy="15.50" r="12.7" fill="url(#tg00)"/>
<circle cx="15.40" cy="15.50" r="12.7" fill="none" stroke="#e05a30" stroke-width="0.8"/></g>
<rect x="19.1" y="5.9" width="7.4" height="3.1" fill="#4a3c3c" opacity="0.85"/>
<rect x="20.5" y="6.9" width="4.6" height="1.1" fill="#e8e0e0" opacity="0.75"/>
<path d="M15.200000000000001,13.2 h6.8 M18.6,9.799999999999999 v6.8" stroke="#a4b0bc" stroke-width="1.0" opacity="0.9"/>
</svg>
<svg x="68.44" y="217.10" width="31.7" height="31.6" viewBox="0 0 31.7 31.6" overflow="hidden">
<rect width="31.7" height="31.6" fill="#fcd8c6"/>
<g filter="url(#bl)">
<circle cx="16.16" cy="16.20" r="14.50" fill="none" stroke="#fce4d4" stroke-width="2.4" opacity="0.9"/>
<path d="M0.8,20.2 A15.9,15.9 0 0 0 18.2,31.9" fill="none" stroke="#f4a0a8" stroke-width="1.6" opacity="0.8"/>
<path d="M1,4 Q7,-0.5 19.7,1.8" fill="none" stroke="#f03c64" stroke-width="1.7" opacity="0.85"/>
<ellipse cx="27.7" cy="26.1" rx="1.5" ry="2.1" fill="#f03860" opacity="0.8"/>
<ellipse cx="6.9" cy="31.5" rx="2.6" ry="1.7" fill="#f6a8a8" opacity="0.7"/>
<ellipse cx="16.1" cy="29.8" rx="2.1" ry="1.2" fill="#f03458" opacity="0.7"/>
<ellipse cx="2.7" cy="21.6" rx="2.7" ry="1.8" fill="#f26878" opacity="0.7"/>
<ellipse cx="2.1" cy="10.3" rx="2.4" ry="1.0" fill="#f26878" opacity="0.7"/>
<ellipse cx="29.6" cy="2.0" rx="1.2" ry="1.6" fill="#f6a8a8" opacity="0.7"/>
</g>
<g filter="url(#bl2)"><circle cx="16.16" cy="16.20" r="12.9" fill="url(#tg01)"/>
<circle cx="16.16" cy="16.20" r="12.9" fill="none" stroke="#e05a30" stroke-width="0.8"/></g>
<rect x="19.1" y="5.9" width="7.4" height="3.1" fill="#4a3c3c" opacity="0.85"/>
<rect x="20.5" y="6.9" width="4.6" height="1.1" fill="#e8e0e0" opacity="0.75"/>
<path d="M15.200000000000001,13.2 h6.8 M18.6,9.799999999999999 v6.8" stroke="#a4b0bc" stroke-width="1.0" opacity="0.9"/>
</svg>
<svg x="101.68" y="217.10" width="31.7" height="31.6" viewBox="0 0 31.7 31.6" overflow="hidden">
<rect width="31.7" height="31.6" fill="#fcd8c6"/>
<g filter="url(#bl)">
<circle cx="15.02" cy="15.90" r="15.60" fill="none" stroke="#fce4d4" stroke-width="2.4" opacity="0.9"/>
<path d="M-1.5,19.9 A17.0,17.0 0 0 0 17.0,32.7" fill="none" stroke="#f4a0a8" stroke-width="1.6" opacity="0.8"/>
<path d="M1,4 Q7,-0.5 15.9,1.8" fill="none" stroke="#f03c64" stroke-width="1.7" opacity="0.85"/>
<ellipse cx="27.7" cy="25.8" rx="1.5" ry="3.2" fill="#f03860" opacity="0.8"/>
<ellipse cx="1.4" cy="1.8" rx="1.8" ry="1.4" fill="#f26878" opacity="0.7"/>
<ellipse cx="30.2" cy="31.6" rx="1.0" ry="0.9" fill="#f03458" opacity="0.7"/>
<ellipse cx="30.1" cy="2.9" rx="2.2" ry="1.0" fill="#f03458" opacity="0.7"/>
<ellipse cx="31.1" cy="1.0" rx="2.9" ry="1.7" fill="#f03458" opacity="0.7"/>
<ellipse cx="11.9" cy="31.2" rx="2.3" ry="1.4" fill="#f6a8a8" opacity="0.7"/>
</g>
<g filter="url(#bl2)"><circle cx="15.02" cy="15.90" r="14.0" fill="url(#tg02)"/>
<circle cx="15.02" cy="15.90" r="14.0" fill="none" stroke="#e06030" stroke-width="0.8"/></g>
<rect x="19.1" y="5.9" width="7.4" height="3.1" fill="#4a3c3c" opacity="0.85"/>
<rect x="20.5" y="6.9" width="4.6" height="1.1" fill="#e8e0e0" opacity="0.75"/>
<path d="M15.200000000000001,13.2 h6.8 M18.6,9.799999999999999 v6.8" stroke="#a4b0bc" stroke-width="1.0" opacity="0.9"/>
</svg>
<svg x="134.92" y="217.10" width="31.7" height="31.6" viewBox="0 0 31.7 31.6" overflow="hidden">
<rect width="31.7" height="31.6" fill="#fcd8c6"/>
<g filter="url(#bl)">
<circle cx="15.08" cy="16.10" r="15.60" fill="none" stroke="#fce4d4" stroke-width="2.4" opacity="0.9"/>
<path d="M-1.4,20.1 A17.0,17.0 0 0 0 17.1,32.9" fill="none" stroke="#f4a0a8" stroke-width="1.6" opacity="0.8"/>
<path d="M1,4 Q7,-0.5 16.9,1.8" fill="none" stroke="#f03c64" stroke-width="2.1" opacity="0.85"/>
<ellipse cx="27.7" cy="28.4" rx="1.5" ry="2.8" fill="#f03860" opacity="0.8"/>
<ellipse cx="20.1" cy="30.7" rx="1.9" ry="1.1" fill="#f03458" opacity="0.7"/>
<ellipse cx="30.3" cy="0.4" rx="3.0" ry="1.1" fill="#f6a8a8" opacity="0.7"/>
<ellipse cx="19.5" cy="30.5" rx="2.3" ry="1.1" fill="#f26878" opacity="0.7"/>
<ellipse cx="30.7" cy="11.1" rx="2.5" ry="0.8" fill="#f03458" opacity="0.7"/>
<ellipse cx="30.3" cy="0.1" rx="1.5" ry="1.3" fill="#f03458" opacity="0.7"/>
</g>
<g filter="url(#bl2)"><circle cx="15.08" cy="16.10" r="14.0" fill="url(#tg03)"/>
<circle cx="15.08" cy="16.10" r="14.0" fill="none" stroke="#f06020" stroke-width="0.8"/></g>
<rect x="19.1" y="5.9" width="7.4" height="3.1" fill="#4a3c3c" opacity="0.85"/>
<rect x="20.5" y="6.9" width="4.6" height="1.1" fill="#e8e0e0" opacity="0.75"/>
<path d="M15.200000000000001,13.2 h6.8 M18.6,9.799999999999999 v6.8" stroke="#6a7c8c" stroke-width="1.0" opacity="0.9"/>
</svg>
<svg x="168.16" y="217.10" width="31.7" height="31.6" viewBox="0 0 31.7 31.6" overflow="hidden">
<rect width="31.7" height="31.6" fill="#fcd8c6"/>
<g filter="url(#bl)">
<circle cx="14.94" cy="15.90" r="15.50" fill="none" stroke="#fce4d4" stroke-width="2.4" opacity="0.9"/>
<path d="M-1.5,19.9 A16.9,16.9 0 0 0 16.9,32.6" fill="none" stroke="#f4a0a8" stroke-width="1.6" opacity="0.8"/>
<path d="M1,4 Q7,-0.5 17.1,1.8" fill="none" stroke="#f03c64" stroke-width="1.9" opacity="0.85"/>
<ellipse cx="27.7" cy="26.1" rx="1.5" ry="2.5" fill="#f03860" opacity="0.8"/>
<ellipse cx="31.2" cy="8.3" rx="1.2" ry="1.6" fill="#f6a8a8" opacity="0.7"/>
<ellipse cx="0.9" cy="7.0" rx="1.5" ry="1.0" fill="#f03458" opacity="0.7"/>
<ellipse cx="20.6" cy="28.9" rx="2.9" ry="1.5" fill="#f03458" opacity="0.7"/>
<ellipse cx="1.3" cy="27.0" rx="1.2" ry="1.5" fill="#f590a0" opacity="0.7"/>
<ellipse cx="2.7" cy="14.3" rx="2.6" ry="0.8" fill="#f590a0" opacity="0.7"/>
</g>
<g filter="url(#bl2)"><circle cx="14.94" cy="15.90" r="13.9" fill="url(#tg04)"/>
<circle cx="14.94" cy="15.90" r="13.9" fill="none" stroke="#f06020" stroke-width="0.8"/></g>
<rect x="19.1" y="5.9" width="7.4" height="3.1" fill="#4a3c3c" opacity="0.85"/>
<rect x="20.5" y="6.9" width="4.6" height="1.1" fill="#e8e0e0" opacity="0.75"/>
<path d="M15.200000000000001,13.2 h6.8 M18.6,9.799999999999999 v6.8" stroke="#6a7c8c" stroke-width="1.0" opacity="0.9"/>
</svg>
<svg x="201.40" y="217.10" width="31.7" height="31.6" viewBox="0 0 31.7 31.6" overflow="hidden">
<rect width="31.7" height="31.6" fill="#fcd8c6"/>
<g filter="url(#bl)">
<circle cx="14.80" cy="15.90" r="15.80" fill="none" stroke="#fce4d4" stroke-width="2.4" opacity="0.9"/>
<path d="M-1.9,19.9 A17.2,17.2 0 0 0 16.8,32.9" fill="none" stroke="#f4a0a8" stroke-width="1.6" opacity="0.8"/>
<path d="M1,4 Q7,-0.5 19.7,1.8" fill="none" stroke="#f03c64" stroke-width="1.9" opacity="0.85"/>
<ellipse cx="27.7" cy="27.9" rx="1.5" ry="2.9" fill="#f03860" opacity="0.8"/>
<ellipse cx="29.7" cy="26.2" rx="2.6" ry="1.1" fill="#f26878" opacity="0.7"/>
<ellipse cx="1.3" cy="16.4" rx="1.9" ry="1.4" fill="#f03458" opacity="0.7"/>
<ellipse cx="30.0" cy="12.9" rx="1.3" ry="0.8" fill="#f6a8a8" opacity="0.7"/>
<ellipse cx="17.7" cy="31.6" rx="1.1" ry="1.3" fill="#f590a0" opacity="0.7"/>
<ellipse cx="30.3" cy="28.1" rx="2.7" ry="1.8" fill="#f26878" opacity="0.7"/>
</g>
<g filter="url(#bl2)"><circle cx="14.80" cy="15.90" r="14.2" fill="url(#tg05)"/>
<circle cx="14.80" cy="15.90" r="14.2" fill="none" stroke="#f06020" stroke-width="0.8"/></g>
<rect x="19.1" y="5.9" width="7.4" height="3.1" fill="#4a3c3c" opacity="0.85"/>
<rect x="20.5" y="6.9" width="4.6" height="1.1" fill="#e8e0e0" opacity="0.75"/>
<path d="M15.200000000000001,13.2 h6.8 M18.6,9.799999999999999 v6.8" stroke="#a4b0bc" stroke-width="1.0" opacity="0.9"/>
</svg>
<svg x="35.20" y="251.30" width="31.7" height="31.6" viewBox="0 0 31.7 31.6" overflow="hidden">
<rect width="31.7" height="31.6" fill="#fcd8c6"/>
<g filter="url(#bl)">
<circle cx="15.80" cy="16.10" r="14.60" fill="none" stroke="#fce4d4" stroke-width="2.4" opacity="0.9"/>
<path d="M0.3,20.1 A16.0,16.0 0 0 0 17.8,31.9" fill="none" stroke="#f4a0a8" stroke-width="1.6" opacity="0.8"/>
<path d="M1,4 Q7,-0.5 13.8,1.8" fill="none" stroke="#f03c64" stroke-width="1.8" opacity="0.85"/>
<ellipse cx="27.7" cy="24.7" rx="1.5" ry="3.2" fill="#f03860" opacity="0.8"/>
<ellipse cx="2.7" cy="28.4" rx="1.0" ry="1.5" fill="#f26878" opacity="0.7"/>
<ellipse cx="1.5" cy="7.6" rx="2.0" ry="1.2" fill="#f26878" opacity="0.7"/>
<ellipse cx="10.8" cy="0.8" rx="2.6" ry="0.9" fill="#f6a8a8" opacity="0.7"/>
<ellipse cx="0.6" cy="16.9" rx="1.3" ry="1.6" fill="#f26878" opacity="0.7"/>
<ellipse cx="2.5" cy="0.2" rx="1.1" ry="1.1" fill="#f6a8a8" opacity="0.7"/>
</g>
<g filter="url(#bl2)"><circle cx="15.80" cy="16.10" r="13.0" fill="url(#tg10)"/>
<circle cx="15.80" cy="16.10" r="13.0" fill="url(#to10)"/>
<circle cx="15.80" cy="16.10" r="13.0" fill="none" stroke="#f04a30" stroke-width="0.8"/></g>
<rect x="19.2" y="8.4" width="7.4" height="3.1" fill="#4a3c3c" opacity="0.85"/>
<rect x="20.599999999999998" y="9.4" width="4.6" height="1.1" fill="#e8e0e0" opacity="0.75"/>
<path d="M14.6,15.8 h6.8 M18.0,12.4 v6.8" stroke="#a4b0bc" stroke-width="1.0" opacity="0.9"/>
</svg>
<svg x="68.44" y="251.30" width="31.7" height="31.6" viewBox="0 0 31.7 31.6" overflow="hidden">
<rect width="31.7" height="31.6" fill="#fcd8c6"/>
<g filter="url(#bl)">
<circle cx="15.36" cy="16.10" r="14.40" fill="none" stroke="#fce4d4" stroke-width="2.4" opacity="0.9"/>
<path d="M0.1,20.1 A15.8,15.8 0 0 0 17.4,31.7" fill="none" stroke="#f4a0a8" stroke-width="1.6" opacity="0.8"/>
<path d="M1,4 Q7,-0.5 14.9,1.8" fill="none" stroke="#f03c64" stroke-width="2.0" opacity="0.85"/>
<ellipse cx="27.7" cy="26.3" rx="1.5" ry="2.7" fill="#f03860" opacity="0.8"/>
<ellipse cx="27.2" cy="2.3" rx="1.2" ry="0.9" fill="#f26878" opacity="0.7"/>
<ellipse cx="27.1" cy="0.3" rx="1.6" ry="1.1" fill="#f6a8a8" opacity="0.7"/>
<ellipse cx="29.9" cy="12.3" rx="1.7" ry="1.0" fill="#f03458" opacity="0.7"/>
<ellipse cx="30.0" cy="4.0" rx="2.4" ry="1.2" fill="#f26878" opacity="0.7"/>
<ellipse cx="18.0" cy="0.1" rx="2.2" ry="1.6" fill="#f6a8a8" opacity="0.7"/>
</g>
<g filter="url(#bl2)"><circle cx="15.36" cy="16.10" r="12.8" fill="url(#tg11)"/>
<circle cx="15.36" cy="16.10" r="12.8" fill="url(#to11)"/>
<circle cx="15.36" cy="16.10" r="12.8" fill="none" stroke="#f04030" stroke-width="0.8"/></g>
<rect x="19.2" y="8.4" width="7.4" height="3.1" fill="#4a3c3c" opacity="0.85"/>
<rect x="20.599999999999998" y="9.4" width="4.6" height="1.1" fill="#e8e0e0" opacity="0.75"/>
<path d="M14.6,15.8 h6.8 M18.0,12.4 v6.8" stroke="#6a7c8c" stroke-width="1.0" opacity="0.9"/>
</svg>
<svg x="101.68" y="251.30" width="31.7" height="31.6" viewBox="0 0 31.7 31.6" overflow="hidden">
<rect width="31.7" height="31.6" fill="#fcd8c6"/>
<g filter="url(#bl)">
<circle cx="15.32" cy="16.10" r="14.40" fill="none" stroke="#fce4d4" stroke-width="2.4" opacity="0.9"/>
<path d="M0.0,20.1 A15.8,15.8 0 0 0 17.3,31.7" fill="none" stroke="#f4a0a8" stroke-width="1.6" opacity="0.8"/>
<path d="M1,4 Q7,-0.5 15.7,1.8" fill="none" stroke="#f03c64" stroke-width="2.2" opacity="0.85"/>
<ellipse cx="27.7" cy="27.1" rx="1.5" ry="2.6" fill="#f03860" opacity="0.8"/>
<ellipse cx="30.6" cy="24.0" rx="1.8" ry="1.5" fill="#f03458" opacity="0.7"/>
<ellipse cx="0.6" cy="29.3" rx="2.4" ry="0.9" fill="#f03458" opacity="0.7"/>
<ellipse cx="7.1" cy="29.0" rx="2.9" ry="1.2" fill="#f26878" opacity="0.7"/>
<ellipse cx="29.1" cy="21.8" rx="2.3" ry="1.5" fill="#f6a8a8" opacity="0.7"/>
<ellipse cx="25.7" cy="2.1" rx="1.3" ry="1.6" fill="#f6a8a8" opacity="0.7"/>
</g>
<g filter="url(#bl2)"><circle cx="15.32" cy="16.10" r="12.8" fill="url(#tg12)"/>
<circle cx="15.32" cy="16.10" r="12.8" fill="none" stroke="#f03040" stroke-width="0.8"/></g>
<rect x="19.2" y="8.4" width="7.4" height="3.1" fill="#4a3c3c" opacity="0.85"/>
<rect x="20.599999999999998" y="9.4" width="4.6" height="1.1" fill="#e8e0e0" opacity="0.75"/>
<path d="M14.6,15.8 h6.8 M18.0,12.4 v6.8" stroke="#6a7c8c" stroke-width="1.0" opacity="0.9"/>
</svg>
<svg x="134.92" y="251.30" width="31.7" height="31.6" viewBox="0 0 31.7 31.6" overflow="hidden">
<rect width="31.7" height="31.6" fill="#fcd8c6"/>
<g filter="url(#bl)">
<circle cx="14.78" cy="16.10" r="14.40" fill="none" stroke="#fce4d4" stroke-width="2.4" opacity="0.9"/>
<path d="M-0.5,20.1 A15.8,15.8 0 0 0 16.8,31.7" fill="none" stroke="#f4a0a8" stroke-width="1.6" opacity="0.8"/>
<path d="M1,4 Q7,-0.5 13.3,1.8" fill="none" stroke="#f03c64" stroke-width="1.7" opacity="0.85"/>
<ellipse cx="27.7" cy="25.0" rx="1.5" ry="3.3" fill="#f03860" opacity="0.8"/>
<ellipse cx="2.5" cy="10.8" rx="1.1" ry="0.9" fill="#f26878" opacity="0.7"/>
<ellipse cx="26.5" cy="31.5" rx="2.6" ry="0.8" fill="#f03458" opacity="0.7"/>
<ellipse cx="0.3" cy="23.7" rx="2.1" ry="1.7" fill="#f26878" opacity="0.7"/>
<ellipse cx="2.5" cy="7.7" rx="2.3" ry="1.3" fill="#f590a0" opacity="0.7"/>
<ellipse cx="8.0" cy="30.4" rx="2.1" ry="1.8" fill="#f03458" opacity="0.7"/>
</g>
<g filter="url(#bl2)"><circle cx="14.78" cy="16.10" r="12.8" fill="url(#tg13)"/>
<circle cx="14.78" cy="16.10" r="12.8" fill="none" stroke="#f03040" stroke-width="0.8"/></g>
<rect x="19.2" y="8.4" width="7.4" height="3.1" fill="#4a3c3c" opacity="0.85"/>
<rect x="20.599999999999998" y="9.4" width="4.6" height="1.1" fill="#e8e0e0" opacity="0.75"/>
<path d="M14.6,15.8 h6.8 M18.0,12.4 v6.8" stroke="#a4b0bc" stroke-width="1.0" opacity="0.9"/>
</svg>
<svg x="168.16" y="251.30" width="31.7" height="31.6" viewBox="0 0 31.7 31.6" overflow="hidden">
<rect width="31.7" height="31.6" fill="#fcd8c6"/>
<g filter="url(#bl)">
<circle cx="15.44" cy="16.40" r="14.30" fill="none" stroke="#fce4d4" stroke-width="2.4" opacity="0.9"/>
<path d="M0.2,20.4 A15.7,15.7 0 0 0 17.4,31.9" fill="none" stroke="#f4a0a8" stroke-width="1.6" opacity="0.8"/>
<path d="M1,4 Q7,-0.5 15.6,1.8" fill="none" stroke="#f03c64" stroke-width="1.8" opacity="0.85"/>
<ellipse cx="27.7" cy="28.3" rx="1.5" ry="3.3" fill="#f03860" opacity="0.8"/>
<ellipse cx="1.2" cy="18.0" rx="1.3" ry="1.2" fill="#f6a8a8" opacity="0.7"/>
<ellipse cx="0.5" cy="15.7" rx="2.8" ry="1.3" fill="#f6a8a8" opacity="0.7"/>
<ellipse cx="18.6" cy="31.2" rx="1.5" ry="1.0" fill="#f590a0" opacity="0.7"/>
<ellipse cx="31.5" cy="26.9" rx="2.3" ry="1.7" fill="#f03458" opacity="0.7"/>
<ellipse cx="31.4" cy="9.7" rx="2.0" ry="1.2" fill="#f03458" opacity="0.7"/>
</g>
<g filter="url(#bl2)"><circle cx="15.44" cy="16.40" r="12.7" fill="url(#tg14)"/>
<circle cx="15.44" cy="16.40" r="12.7" fill="none" stroke="#f04060" stroke-width="0.8"/></g>
<rect x="19.2" y="8.4" width="7.4" height="3.1" fill="#4a3c3c" opacity="0.85"/>
<rect x="20.599999999999998" y="9.4" width="4.6" height="1.1" fill="#e8e0e0" opacity="0.75"/>
<path d="M14.6,15.8 h6.8 M18.0,12.4 v6.8" stroke="#a4b0bc" stroke-width="1.0" opacity="0.9"/>
</svg>
<svg x="201.40" y="251.30" width="31.7" height="31.6" viewBox="0 0 31.7 31.6" overflow="hidden">
<rect width="31.7" height="31.6" fill="#fcd8c6"/>
<g filter="url(#bl)">
<circle cx="16.20" cy="16.40" r="14.30" fill="none" stroke="#fce4d4" stroke-width="2.4" opacity="0.9"/>
<path d="M1.0,20.4 A15.7,15.7 0 0 0 18.2,31.9" fill="none" stroke="#f4a0a8" stroke-width="1.6" opacity="0.8"/>
<path d="M1,4 Q7,-0.5 14.2,1.8" fill="none" stroke="#f03c64" stroke-width="1.9" opacity="0.85"/>
<ellipse cx="27.7" cy="25.9" rx="1.5" ry="3.2" fill="#f03860" opacity="0.8"/>
<ellipse cx="1.3" cy="22.0" rx="1.9" ry="1.6" fill="#f590a0" opacity="0.7"/>
<ellipse cx="15.3" cy="2.2" rx="2.6" ry="1.7" fill="#f6a8a8" opacity="0.7"/>
<ellipse cx="14.8" cy="0.7" rx="2.3" ry="1.6" fill="#f590a0" opacity="0.7"/>
<ellipse cx="30.4" cy="2.6" rx="2.8" ry="1.6" fill="#f590a0" opacity="0.7"/>
<ellipse cx="0.6" cy="22.3" rx="2.8" ry="1.1" fill="#f26878" opacity="0.7"/>
</g>
<g filter="url(#bl2)"><circle cx="16.20" cy="16.40" r="12.7" fill="url(#tg15)"/>
<circle cx="16.20" cy="16.40" r="12.7" fill="none" stroke="#f06070" stroke-width="0.8"/></g>
<rect x="19.2" y="8.4" width="7.4" height="3.1" fill="#4a3c3c" opacity="0.85"/>
<rect x="20.599999999999998" y="9.4" width="4.6" height="1.1" fill="#e8e0e0" opacity="0.75"/>
<path d="M14.6,15.8 h6.8 M18.0,12.4 v6.8" stroke="#6a7c8c" stroke-width="1.0" opacity="0.9"/>
</svg>
<svg x="35.20" y="286.40" width="31.7" height="31.6" viewBox="0 0 31.7 31.6" overflow="hidden">
<rect width="31.7" height="31.6" fill="#fcd8c6"/>
<g filter="url(#bl)">
<circle cx="17.00" cy="16.90" r="13.80" fill="none" stroke="#fce4d4" stroke-width="2.4" opacity="0.9"/>
<path d="M2.3,20.9 A15.2,15.2 0 0 0 19.0,31.9" fill="none" stroke="#f4a0a8" stroke-width="1.6" opacity="0.8"/>
<path d="M1,4 Q7,-0.5 19.1,1.8" fill="none" stroke="#f03c64" stroke-width="1.9" opacity="0.85"/>
<ellipse cx="27.7" cy="26.3" rx="1.5" ry="3.1" fill="#f03860" opacity="0.8"/>
<ellipse cx="3.7" cy="0.8" rx="1.1" ry="1.3" fill="#f03458" opacity="0.7"/>
<ellipse cx="28.7" cy="10.6" rx="1.8" ry="0.9" fill="#f6a8a8" opacity="0.7"/>
<ellipse cx="12.4" cy="30.2" rx="2.8" ry="0.9" fill="#f26878" opacity="0.7"/>
<ellipse cx="3.6" cy="31.3" rx="1.2" ry="1.7" fill="#f03458" opacity="0.7"/>
<ellipse cx="30.7" cy="11.6" rx="1.6" ry="1.5" fill="#f6a8a8" opacity="0.7"/>
</g>
<g filter="url(#bl2)"><circle cx="17.00" cy="16.90" r="12.2" fill="url(#tg20)"/>
<circle cx="17.00" cy="16.90" r="12.2" fill="none" stroke="#f05030" stroke-width="0.8"/></g>
<rect x="18.6" y="8.3" width="7.4" height="3.1" fill="#4a3c3c" opacity="0.85"/>
<rect x="20.0" y="9.3" width="4.6" height="1.1" fill="#e8e0e0" opacity="0.75"/>
<path d="M13.9,15.1 h6.8 M17.3,11.7 v6.8" stroke="#a4b0bc" stroke-width="1.0" opacity="0.9"/>
</svg>
<svg x="68.44" y="286.40" width="31.7" height="31.6" viewBox="0 0 31.7 31.6" overflow="hidden">
<rect width="31.7" height="31.6" fill="#fcd8c6"/>
<g filter="url(#bl)">
<circle cx="15.56" cy="16.00" r="15.40" fill="none" stroke="#fce4d4" stroke-width="2.4" opacity="0.9"/>
<path d="M-0.7,20.0 A16.8,16.8 0 0 0 17.6,32.6" fill="none" stroke="#f4a0a8" stroke-width="1.6" opacity="0.8"/>
<path d="M1,4 Q7,-0.5 17.6,1.8" fill="none" stroke="#f03c64" stroke-width="2.2" opacity="0.85"/>
<ellipse cx="27.7" cy="25.7" rx="1.5" ry="3.1" fill="#f03860" opacity="0.8"/>
<ellipse cx="30.7" cy="16.9" rx="2.3" ry="1.3" fill="#f26878" opacity="0.7"/>
<ellipse cx="22.8" cy="2.0" rx="2.3" ry="1.5" fill="#f590a0" opacity="0.7"/>
<ellipse cx="0.5" cy="28.1" rx="1.2" ry="1.7" fill="#f6a8a8" opacity="0.7"/>
<ellipse cx="2.8" cy="20.4" rx="2.1" ry="1.4" fill="#f6a8a8" opacity="0.7"/>
<ellipse cx="15.3" cy="30.9" rx="1.2" ry="1.0" fill="#f26878" opacity="0.7"/>
</g>
<g filter="url(#bl2)"><circle cx="15.56" cy="16.00" r="13.8" fill="url(#tg21)"/>
<circle cx="15.56" cy="16.00" r="13.8" fill="none" stroke="#f05020" stroke-width="0.8"/></g>
<rect x="18.6" y="8.3" width="7.4" height="3.1" fill="#4a3c3c" opacity="0.85"/>
<rect x="20.0" y="9.3" width="4.6" height="1.1" fill="#e8e0e0" opacity="0.75"/>
<path d="M13.9,15.1 h6.8 M17.3,11.7 v6.8" stroke="#6a7c8c" stroke-width="1.0" opacity="0.9"/>
</svg>
<svg x="101.68" y="286.40" width="31.7" height="31.6" viewBox="0 0 31.7 31.6" overflow="hidden">
<rect width="31.7" height="31.6" fill="#fcd8c6"/>
<g filter="url(#bl)">
<circle cx="13.42" cy="15.60" r="14.90" fill="none" stroke="#fce4d4" stroke-width="2.4" opacity="0.9"/>
<path d="M-2.4,19.6 A16.3,16.3 0 0 0 15.4,31.7" fill="none" stroke="#f4a0a8" stroke-width="1.6" opacity="0.8"/>
<path d="M1,4 Q7,-0.5 16.9,1.8" fill="none" stroke="#f03c64" stroke-width="2.1" opacity="0.85"/>
<ellipse cx="27.7" cy="26.2" rx="1.5" ry="2.1" fill="#f03860" opacity="0.8"/>
<ellipse cx="29.9" cy="27.6" rx="2.0" ry="1.1" fill="#f26878" opacity="0.7"/>
<ellipse cx="31.3" cy="29.9" rx="2.1" ry="1.6" fill="#f6a8a8" opacity="0.7"/>
<ellipse cx="30.2" cy="31.5" rx="1.5" ry="0.9" fill="#f590a0" opacity="0.7"/>
<ellipse cx="17.9" cy="2.7" rx="1.4" ry="1.0" fill="#f26878" opacity="0.7"/>
<ellipse cx="21.2" cy="29.8" rx="2.2" ry="0.9" fill="#f590a0" opacity="0.7"/>
</g>
<g filter="url(#bl2)"><circle cx="13.42" cy="15.60" r="13.3" fill="url(#tg22)"/>
<circle cx="13.42" cy="15.60" r="13.3" fill="none" stroke="#f04030" stroke-width="0.8"/></g>
<rect x="18.6" y="8.3" width="7.4" height="3.1" fill="#4a3c3c" opacity="0.85"/>
<rect x="20.0" y="9.3" width="4.6" height="1.1" fill="#e8e0e0" opacity="0.75"/>
<path d="M13.9,15.1 h6.8 M17.3,11.7 v6.8" stroke="#a4b0bc" stroke-width="1.0" opacity="0.9"/>
</svg>
<svg x="134.92" y="286.40" width="31.7" height="31.6" viewBox="0 0 31.7 31.6" overflow="hidden">
<rect width="31.7" height="31.6" fill="#fcd8c6"/>
<g filter="url(#bl)">
<circle cx="14.78" cy="16.00" r="14.40" fill="none" stroke="#fce4d4" stroke-width="2.4" opacity="0.9"/>
<path d="M-0.5,20.0 A15.8,15.8 0 0 0 16.8,31.6" fill="none" stroke="#f4a0a8" stroke-width="1.6" opacity="0.8"/>
<path d="M1,4 Q7,-0.5 15.8,1.8" fill="none" stroke="#f03c64" stroke-width="1.8" opacity="0.85"/>
<ellipse cx="27.7" cy="26.7" rx="1.5" ry="2.9" fill="#f03860" opacity="0.8"/>
<ellipse cx="2.6" cy="11.7" rx="1.1" ry="1.6" fill="#f03458" opacity="0.7"/>
<ellipse cx="30.1" cy="29.7" rx="2.3" ry="1.8" fill="#f03458" opacity="0.7"/>
<ellipse cx="31.4" cy="21.1" rx="2.2" ry="1.5" fill="#f26878" opacity="0.7"/>
<ellipse cx="3.4" cy="2.3" rx="2.0" ry="1.3" fill="#f590a0" opacity="0.7"/>
<ellipse cx="6.3" cy="30.9" rx="1.1" ry="1.3" fill="#f590a0" opacity="0.7"/>
</g>
<g filter="url(#bl2)"><circle cx="14.78" cy="16.00" r="12.8" fill="url(#tg23)"/>
<circle cx="14.78" cy="16.00" r="12.8" fill="none" stroke="#f04c64" stroke-width="0.8"/></g>
<rect x="18.6" y="8.3" width="7.4" height="3.1" fill="#4a3c3c" opacity="0.85"/>
<rect x="20.0" y="9.3" width="4.6" height="1.1" fill="#e8e0e0" opacity="0.75"/>
<path d="M13.9,15.1 h6.8 M17.3,11.7 v6.8" stroke="#a4b0bc" stroke-width="1.0" opacity="0.9"/>
</svg>
<svg x="168.16" y="286.40" width="31.7" height="31.6" viewBox="0 0 31.7 31.6" overflow="hidden">
<rect width="31.7" height="31.6" fill="#fcd8c6"/>
<g filter="url(#bl)">
<circle cx="15.14" cy="16.00" r="14.60" fill="none" stroke="#fce4d4" stroke-width="2.4" opacity="0.9"/>
<path d="M-0.4,20.0 A16.0,16.0 0 0 0 17.1,31.8" fill="none" stroke="#f4a0a8" stroke-width="1.6" opacity="0.8"/>
<path d="M1,4 Q7,-0.5 17.5,1.8" fill="none" stroke="#f03c64" stroke-width="2.0" opacity="0.85"/>
<ellipse cx="27.7" cy="26.9" rx="1.5" ry="3.4" fill="#f03860" opacity="0.8"/>
<ellipse cx="0.4" cy="25.0" rx="1.1" ry="1.4" fill="#f26878" opacity="0.7"/>
<ellipse cx="15.8" cy="0.1" rx="1.6" ry="1.7" fill="#f03458" opacity="0.7"/>
<ellipse cx="0.2" cy="26.5" rx="2.4" ry="1.5" fill="#f26878" opacity="0.7"/>
<ellipse cx="31.7" cy="6.5" rx="2.7" ry="1.2" fill="#f26878" opacity="0.7"/>
<ellipse cx="1.5" cy="3.4" rx="1.8" ry="1.6" fill="#f26878" opacity="0.7"/>
</g>
<g filter="url(#bl2)"><circle cx="15.14" cy="16.00" r="13.0" fill="url(#tg24)"/>
<circle cx="15.14" cy="16.00" r="13.0" fill="none" stroke="#f28888" stroke-width="0.8"/></g>
<rect x="18.6" y="8.3" width="7.4" height="3.1" fill="#4a3c3c" opacity="0.85"/>
<rect x="20.0" y="9.3" width="4.6" height="1.1" fill="#e8e0e0" opacity="0.75"/>
<path d="M13.9,15.1 h6.8 M17.3,11.7 v6.8" stroke="#6a7c8c" stroke-width="1.0" opacity="0.9"/>
</svg>
<svg x="201.40" y="286.40" width="31.7" height="31.6" viewBox="0 0 31.7 31.6" overflow="hidden">
<rect width="31.7" height="31.6" fill="#fcd8c6"/>
<g filter="url(#bl)">
<circle cx="15.30" cy="16.00" r="15.20" fill="none" stroke="#fce4d4" stroke-width="2.4" opacity="0.9"/>
<path d="M-0.8,20.0 A16.6,16.6 0 0 0 17.3,32.4" fill="none" stroke="#f4a0a8" stroke-width="1.6" opacity="0.8"/>
<path d="M1,4 Q7,-0.5 17.9,1.8" fill="none" stroke="#f03c64" stroke-width="1.9" opacity="0.85"/>
<ellipse cx="27.7" cy="26.5" rx="1.5" ry="2.1" fill="#f03860" opacity="0.8"/>
<ellipse cx="6.6" cy="30.1" rx="1.9" ry="1.6" fill="#f26878" opacity="0.7"/>
<ellipse cx="13.9" cy="30.0" rx="2.4" ry="1.2" fill="#f26878" opacity="0.7"/>
<ellipse cx="30.0" cy="11.4" rx="1.4" ry="0.8" fill="#f6a8a8" opacity="0.7"/>
<ellipse cx="0.8" cy="11.7" rx="2.1" ry="1.0" fill="#f6a8a8" opacity="0.7"/>
<ellipse cx="5.4" cy="1.2" rx="2.3" ry="0.9" fill="#f590a0" opacity="0.7"/>
</g>
<g filter="url(#bl2)"><circle cx="15.30" cy="16.00" r="13.6" fill="url(#tg25)"/>
<circle cx="15.30" cy="16.00" r="13.6" fill="none" stroke="#f4948c" stroke-width="0.8"/></g>
<rect x="18.6" y="8.3" width="7.4" height="3.1" fill="#4a3c3c" opacity="0.85"/>
<rect x="20.0" y="9.3" width="4.6" height="1.1" fill="#e8e0e0" opacity="0.75"/>
<path d="M13.9,15.1 h6.8 M17.3,11.7 v6.8" stroke="#6a7c8c" stroke-width="1.0" opacity="0.9"/>
</svg>
<svg x="35.20" y="321.20" width="31.7" height="31.6" viewBox="0 0 31.7 31.6" overflow="hidden">
<rect width="31.7" height="31.6" fill="#fcd8c6"/>
<g filter="url(#bl)">
<circle cx="17.70" cy="16.80" r="13.10" fill="none" stroke="#fce4d4" stroke-width="2.4" opacity="0.9"/>
<path d="M3.7,20.8 A14.5,14.5 0 0 0 19.7,31.1" fill="none" stroke="#f4a0a8" stroke-width="1.6" opacity="0.8"/>
<path d="M1,4 Q7,-0.5 17.3,1.8" fill="none" stroke="#f03c64" stroke-width="2.0" opacity="0.85"/>
<ellipse cx="27.7" cy="25.3" rx="1.5" ry="3.3" fill="#f03860" opacity="0.8"/>
<ellipse cx="14.2" cy="29.8" rx="1.5" ry="0.8" fill="#f26878" opacity="0.7"/>
<ellipse cx="0.8" cy="31.5" rx="1.5" ry="1.2" fill="#f590a0" opacity="0.7"/>
<ellipse cx="0.5" cy="19.7" rx="2.8" ry="1.4" fill="#f03458" opacity="0.7"/>
<ellipse cx="29.5" cy="24.9" rx="2.6" ry="1.8" fill="#f6a8a8" opacity="0.7"/>
<ellipse cx="7.9" cy="29.4" rx="2.3" ry="1.1" fill="#f03458" opacity="0.7"/>
</g>
<g filter="url(#bl2)"><circle cx="17.70" cy="16.80" r="11.5" fill="url(#tg30)"/>
<circle cx="17.70" cy="16.80" r="11.5" fill="none" stroke="#30a070" stroke-width="0.8"/></g>
<rect x="19.2" y="8.5" width="7.4" height="3.1" fill="#4a3c3c" opacity="0.85"/>
<rect x="20.599999999999998" y="9.5" width="4.6" height="1.1" fill="#e8e0e0" opacity="0.75"/>
<path d="M14.6,15.3 h6.8 M18.0,11.9 v6.8" stroke="#a4b0bc" stroke-width="1.0" opacity="0.9"/>
</svg>
<svg x="68.44" y="321.20" width="31.7" height="31.6" viewBox="0 0 31.7 31.6" overflow="hidden">
<rect width="31.7" height="31.6" fill="#fcd8c6"/>
<g filter="url(#bl)">
<circle cx="14.76" cy="17.40" r="14.30" fill="none" stroke="#fce4d4" stroke-width="2.4" opacity="0.9"/>
<path d="M-0.4,21.4 A15.7,15.7 0 0 0 16.8,32.9" fill="none" stroke="#f4a0a8" stroke-width="1.6" opacity="0.8"/>
<path d="M1,4 Q7,-0.5 13.7,1.8" fill="none" stroke="#f03c64" stroke-width="2.1" opacity="0.85"/>
<ellipse cx="27.7" cy="28.5" rx="1.5" ry="2.9" fill="#f03860" opacity="0.8"/>
<ellipse cx="3.3" cy="2.0" rx="1.3" ry="0.8" fill="#f26878" opacity="0.7"/>
<ellipse cx="6.0" cy="1.5" rx="1.4" ry="1.8" fill="#f03458" opacity="0.7"/>
<ellipse cx="10.8" cy="30.0" rx="2.9" ry="0.8" fill="#f03458" opacity="0.7"/>
<ellipse cx="31.0" cy="20.0" rx="1.2" ry="1.1" fill="#f6a8a8" opacity="0.7"/>
<ellipse cx="3.6" cy="29.8" rx="2.1" ry="1.6" fill="#f03458" opacity="0.7"/>
</g>
<g filter="url(#bl2)"><circle cx="14.76" cy="17.40" r="12.7" fill="url(#tg31)"/>
<circle cx="14.76" cy="17.40" r="12.7" fill="none" stroke="#20a060" stroke-width="0.8"/></g>
<rect x="19.2" y="8.5" width="7.4" height="3.1" fill="#4a3c3c" opacity="0.85"/>
<rect x="20.599999999999998" y="9.5" width="4.6" height="1.1" fill="#e8e0e0" opacity="0.75"/>
<path d="M14.6,15.3 h6.8 M18.0,11.9 v6.8" stroke="#a4b0bc" stroke-width="1.0" opacity="0.9"/>
</svg>
<svg x="101.68" y="321.20" width="31.7" height="31.6" viewBox="0 0 31.7 31.6" overflow="hidden">
<rect width="31.7" height="31.6" fill="#fcd8c6"/>
<g filter="url(#bl)">
<circle cx="16.32" cy="16.50" r="14.00" fill="none" stroke="#fce4d4" stroke-width="2.4" opacity="0.9"/>
<path d="M1.4,20.5 A15.4,15.4 0 0 0 18.3,31.7" fill="none" stroke="#f4a0a8" stroke-width="1.6" opacity="0.8"/>
<path d="M1,4 Q7,-0.5 15.8,1.8" fill="none" stroke="#f03c64" stroke-width="2.3" opacity="0.85"/>
<ellipse cx="27.7" cy="28.1" rx="1.5" ry="2.6" fill="#f03860" opacity="0.8"/>
<ellipse cx="31.5" cy="11.5" rx="1.9" ry="1.2" fill="#f6a8a8" opacity="0.7"/>
<ellipse cx="10.9" cy="31.1" rx="2.9" ry="0.8" fill="#f6a8a8" opacity="0.7"/>
<ellipse cx="2.1" cy="0.7" rx="1.2" ry="1.5" fill="#f6a8a8" opacity="0.7"/>
<ellipse cx="10.1" cy="1.8" rx="2.8" ry="1.7" fill="#f26878" opacity="0.7"/>
<ellipse cx="14.8" cy="31.2" rx="3.0" ry="0.8" fill="#f03458" opacity="0.7"/>
</g>
<g filter="url(#bl2)"><circle cx="16.32" cy="16.50" r="12.4" fill="url(#tg32)"/>
<circle cx="16.32" cy="16.50" r="12.4" fill="none" stroke="#f0a010" stroke-width="0.8"/></g>
<rect x="19.2" y="8.5" width="7.4" height="3.1" fill="#4a3c3c" opacity="0.85"/>
<rect x="20.599999999999998" y="9.5" width="4.6" height="1.1" fill="#e8e0e0" opacity="0.75"/>
<path d="M14.6,15.3 h6.8 M18.0,11.9 v6.8" stroke="#6a7c8c" stroke-width="1.0" opacity="0.9"/>
</svg>
<svg x="134.92" y="321.20" width="31.7" height="31.6" viewBox="0 0 31.7 31.6" overflow="hidden">
<rect width="31.7" height="31.6" fill="#fcd8c6"/>
<g filter="url(#bl)">
<circle cx="13.28" cy="16.50" r="15.20" fill="none" stroke="#fce4d4" stroke-width="2.4" opacity="0.9"/>
<path d="M-2.8,20.5 A16.6,16.6 0 0 0 15.3,32.9" fill="none" stroke="#f4a0a8" stroke-width="1.6" opacity="0.8"/>
<path d="M1,4 Q7,-0.5 14.4,1.8" fill="none" stroke="#f03c64" stroke-width="2.2" opacity="0.85"/>
<ellipse cx="27.7" cy="28.3" rx="1.5" ry="2.5" fill="#f03860" opacity="0.8"/>
<ellipse cx="29.0" cy="2.6" rx="1.5" ry="0.8" fill="#f590a0" opacity="0.7"/>
<ellipse cx="2.8" cy="4.5" rx="1.2" ry="1.1" fill="#f26878" opacity="0.7"/>
<ellipse cx="0.7" cy="17.8" rx="2.0" ry="1.7" fill="#f6a8a8" opacity="0.7"/>
<ellipse cx="31.1" cy="16.9" rx="1.9" ry="1.4" fill="#f590a0" opacity="0.7"/>
<ellipse cx="26.2" cy="0.3" rx="2.7" ry="0.9" fill="#f26878" opacity="0.7"/>
</g>
<g filter="url(#bl2)"><circle cx="13.28" cy="16.50" r="13.6" fill="url(#tg33)"/>
<circle cx="13.28" cy="16.50" r="13.6" fill="none" stroke="#f09010" stroke-width="0.8"/></g>
<rect x="19.2" y="8.5" width="7.4" height="3.1" fill="#4a3c3c" opacity="0.85"/>
<rect x="20.599999999999998" y="9.5" width="4.6" height="1.1" fill="#e8e0e0" opacity="0.75"/>
<path d="M14.6,15.3 h6.8 M18.0,11.9 v6.8" stroke="#6a7c8c" stroke-width="1.0" opacity="0.9"/>
</svg>
<svg x="168.16" y="321.20" width="31.7" height="31.6" viewBox="0 0 31.7 31.6" overflow="hidden">
<rect width="31.7" height="31.6" fill="#fcd8c6"/>
<g filter="url(#bl)">
<circle cx="16.24" cy="16.40" r="13.90" fill="none" stroke="#fce4d4" stroke-width="2.4" opacity="0.9"/>
<path d="M1.4,20.4 A15.3,15.3 0 0 0 18.2,31.5" fill="none" stroke="#f4a0a8" stroke-width="1.6" opacity="0.8"/>
<path d="M1,4 Q7,-0.5 19.6,1.8" fill="none" stroke="#f03c64" stroke-width="1.8" opacity="0.85"/>
<ellipse cx="27.7" cy="25.0" rx="1.5" ry="2.6" fill="#f03860" opacity="0.8"/>
<ellipse cx="20.3" cy="2.3" rx="1.8" ry="1.5" fill="#f03458" opacity="0.7"/>
<ellipse cx="9.3" cy="2.8" rx="2.6" ry="1.0" fill="#f6a8a8" opacity="0.7"/>
<ellipse cx="14.7" cy="2.2" rx="1.7" ry="1.0" fill="#f26878" opacity="0.7"/>
<ellipse cx="29.3" cy="2.1" rx="1.8" ry="1.4" fill="#f03458" opacity="0.7"/>
<ellipse cx="0.7" cy="26.5" rx="1.7" ry="1.2" fill="#f26878" opacity="0.7"/>
</g>
<g filter="url(#bl2)"><circle cx="16.24" cy="16.40" r="12.3" fill="url(#tg34)"/>
<circle cx="16.24" cy="16.40" r="12.3" fill="none" stroke="#f81c42" stroke-width="0.8"/></g>
<rect x="19.2" y="8.5" width="7.4" height="3.1" fill="#4a3c3c" opacity="0.85"/>
<rect x="20.599999999999998" y="9.5" width="4.6" height="1.1" fill="#e8e0e0" opacity="0.75"/>
<path d="M14.6,15.3 h6.8 M18.0,11.9 v6.8" stroke="#a4b0bc" stroke-width="1.0" opacity="0.9"/>
</svg>
<svg x="201.40" y="321.20" width="31.7" height="31.6" viewBox="0 0 31.7 31.6" overflow="hidden">
<rect width="31.7" height="31.6" fill="#fcd8c6"/>
<g filter="url(#bl)">
<circle cx="15.00" cy="16.50" r="14.20" fill="none" stroke="#fce4d4" stroke-width="2.4" opacity="0.9"/>
<path d="M-0.1,20.5 A15.6,15.6 0 0 0 17.0,31.9" fill="none" stroke="#f4a0a8" stroke-width="1.6" opacity="0.8"/>
<path d="M1,4 Q7,-0.5 13.6,1.8" fill="none" stroke="#f03c64" stroke-width="1.8" opacity="0.85"/>
<ellipse cx="27.7" cy="25.3" rx="1.5" ry="3.4" fill="#f03860" opacity="0.8"/>
<ellipse cx="2.6" cy="31.2" rx="2.9" ry="1.3" fill="#f6a8a8" opacity="0.7"/>
<ellipse cx="11.7" cy="29.2" rx="2.0" ry="1.6" fill="#f6a8a8" opacity="0.7"/>
<ellipse cx="14.9" cy="30.4" rx="1.6" ry="1.7" fill="#f26878" opacity="0.7"/>
<ellipse cx="2.7" cy="0.9" rx="1.6" ry="1.3" fill="#f590a0" opacity="0.7"/>
<ellipse cx="1.3" cy="30.8" rx="2.0" ry="0.8" fill="#f03458" opacity="0.7"/>
</g>
<g filter="url(#bl2)"><circle cx="15.00" cy="16.50" r="12.6" fill="url(#tg35)"/>
<circle cx="15.00" cy="16.50" r="12.6" fill="none" stroke="#f81c42" stroke-width="0.8"/></g>
<rect x="19.2" y="8.5" width="7.4" height="3.1" fill="#4a3c3c" opacity="0.85"/>
<rect x="20.599999999999998" y="9.5" width="4.6" height="1.1" fill="#e8e0e0" opacity="0.75"/>
<path d="M14.6,15.3 h6.8 M18.0,11.9 v6.8" stroke="#a4b0bc" stroke-width="1.0" opacity="0.9"/>
</svg>
<svg x="35.20" y="356.60" width="31.7" height="31.6" viewBox="0 0 31.7 31.6" overflow="hidden">
<rect width="31.7" height="31.6" fill="#fcd8c6"/>
<g filter="url(#bl)">
<circle cx="16.40" cy="15.20" r="13.90" fill="none" stroke="#fce4d4" stroke-width="2.4" opacity="0.9"/>
<path d="M1.6,19.2 A15.3,15.3 0 0 0 18.4,30.3" fill="none" stroke="#f4a0a8" stroke-width="1.6" opacity="0.8"/>
<path d="M1,4 Q7,-0.5 16.3,1.8" fill="none" stroke="#f03c64" stroke-width="1.8" opacity="0.85"/>
<ellipse cx="27.7" cy="27.7" rx="1.5" ry="2.2" fill="#f03860" opacity="0.8"/>
<ellipse cx="9.5" cy="29.8" rx="1.4" ry="1.3" fill="#f26878" opacity="0.7"/>
<ellipse cx="31.6" cy="31.0" rx="2.9" ry="1.2" fill="#f03458" opacity="0.7"/>
<ellipse cx="15.0" cy="31.6" rx="1.7" ry="1.7" fill="#f590a0" opacity="0.7"/>
<ellipse cx="28.8" cy="11.8" rx="2.6" ry="1.1" fill="#f03458" opacity="0.7"/>
<ellipse cx="2.8" cy="16.4" rx="1.3" ry="1.3" fill="#f26878" opacity="0.7"/>
</g>
<g filter="url(#bl2)"><circle cx="16.40" cy="15.20" r="12.3" fill="url(#tg40)"/>
<circle cx="16.40" cy="15.20" r="12.3" fill="none" stroke="#f04848" stroke-width="0.8"/></g>
<rect x="11.8" y="6.2" width="7.4" height="3.1" fill="#4a3c3c" opacity="0.85"/>
<rect x="13.200000000000001" y="7.2" width="4.6" height="1.1" fill="#e8e0e0" opacity="0.75"/>
<path d="M8.4,13.6 h6.8 M11.8,10.2 v6.8" stroke="#a4b0bc" stroke-width="1.0" opacity="0.9"/>
</svg>
<svg x="68.44" y="356.60" width="31.7" height="31.6" viewBox="0 0 31.7 31.6" overflow="hidden">
<rect width="31.7" height="31.6" fill="#fcd8c6"/>
<g filter="url(#bl)">
<circle cx="14.66" cy="15.20" r="14.30" fill="none" stroke="#fce4d4" stroke-width="2.4" opacity="0.9"/>
<path d="M-0.5,19.2 A15.7,15.7 0 0 0 16.7,30.7" fill="none" stroke="#f4a0a8" stroke-width="1.6" opacity="0.8"/>
<path d="M1,4 Q7,-0.5 16.8,1.8" fill="none" stroke="#f03c64" stroke-width="1.7" opacity="0.85"/>
<ellipse cx="27.7" cy="24.8" rx="1.5" ry="2.3" fill="#f03860" opacity="0.8"/>
<ellipse cx="11.3" cy="31.5" rx="3.0" ry="0.8" fill="#f03458" opacity="0.7"/>
<ellipse cx="0.7" cy="8.7" rx="2.7" ry="1.4" fill="#f03458" opacity="0.7"/>
<ellipse cx="14.3" cy="0.8" rx="1.8" ry="1.1" fill="#f6a8a8" opacity="0.7"/>
<ellipse cx="0.9" cy="0.1" rx="2.8" ry="1.6" fill="#f590a0" opacity="0.7"/>
<ellipse cx="2.9" cy="23.5" rx="2.0" ry="1.6" fill="#f6a8a8" opacity="0.7"/>
</g>
<g filter="url(#bl2)"><circle cx="14.66" cy="15.20" r="12.7" fill="url(#tg41)"/>
<circle cx="14.66" cy="15.20" r="12.7" fill="url(#to41)"/>
<circle cx="14.66" cy="15.20" r="12.7" fill="none" stroke="#f04040" stroke-width="0.8"/></g>
<rect x="11.8" y="6.2" width="7.4" height="3.1" fill="#4a3c3c" opacity="0.85"/>
<rect x="13.200000000000001" y="7.2" width="4.6" height="1.1" fill="#e8e0e0" opacity="0.75"/>
<path d="M8.4,13.6 h6.8 M11.8,10.2 v6.8" stroke="#6a7c8c" stroke-width="1.0" opacity="0.9"/>
</svg>
<svg x="101.68" y="356.60" width="31.7" height="31.6" viewBox="0 0 31.7 31.6" overflow="hidden">
<rect width="31.7" height="31.6" fill="#fcd8c6"/>
<g filter="url(#bl)">
<circle cx="14.72" cy="15.20" r="14.90" fill="none" stroke="#fce4d4" stroke-width="2.4" opacity="0.9"/>
<path d="M-1.1,19.2 A16.3,16.3 0 0 0 16.7,31.3" fill="none" stroke="#f4a0a8" stroke-width="1.6" opacity="0.8"/>
<path d="M1,4 Q7,-0.5 16.9,1.8" fill="none" stroke="#f03c64" stroke-width="1.8" opacity="0.85"/>
<ellipse cx="27.7" cy="25.3" rx="1.5" ry="2.0" fill="#f03860" opacity="0.8"/>
<ellipse cx="28.4" cy="2.7" rx="2.0" ry="1.6" fill="#f6a8a8" opacity="0.7"/>
<ellipse cx="11.8" cy="30.5" rx="1.4" ry="1.5" fill="#f03458" opacity="0.7"/>
<ellipse cx="12.9" cy="1.1" rx="1.6" ry="1.1" fill="#f6a8a8" opacity="0.7"/>
<ellipse cx="31.6" cy="4.9" rx="1.3" ry="0.8" fill="#f03458" opacity="0.7"/>
<ellipse cx="27.0" cy="31.1" rx="1.1" ry="1.4" fill="#f03458" opacity="0.7"/>
</g>
<g filter="url(#bl2)"><circle cx="14.72" cy="15.20" r="13.3" fill="url(#tg42)"/>
<circle cx="14.72" cy="15.20" r="13.3" fill="url(#to42)"/>
<circle cx="14.72" cy="15.20" r="13.3" fill="none" stroke="#f03040" stroke-width="0.8"/></g>
<rect x="11.8" y="6.2" width="7.4" height="3.1" fill="#4a3c3c" opacity="0.85"/>
<rect x="13.200000000000001" y="7.2" width="4.6" height="1.1" fill="#e8e0e0" opacity="0.75"/>
<path d="M8.4,13.6 h6.8 M11.8,10.2 v6.8" stroke="#a4b0bc" stroke-width="1.0" opacity="0.9"/>
</svg>
<svg x="134.92" y="356.60" width="31.7" height="31.6" viewBox="0 0 31.7 31.6" overflow="hidden">
<rect width="31.7" height="31.6" fill="#fcd8c6"/>
<g filter="url(#bl)">
<circle cx="15.08" cy="15.20" r="15.60" fill="none" stroke="#fce4d4" stroke-width="2.4" opacity="0.9"/>
<path d="M-1.4,19.2 A17.0,17.0 0 0 0 17.1,32.0" fill="none" stroke="#f4a0a8" stroke-width="1.6" opacity="0.8"/>
<path d="M1,4 Q7,-0.5 16.8,1.8" fill="none" stroke="#f03c64" stroke-width="2.0" opacity="0.85"/>
<ellipse cx="27.7" cy="25.7" rx="1.5" ry="3.1" fill="#f03860" opacity="0.8"/>
<ellipse cx="29.0" cy="21.1" rx="1.1" ry="1.3" fill="#f03458" opacity="0.7"/>
<ellipse cx="6.2" cy="31.4" rx="2.3" ry="1.7" fill="#f590a0" opacity="0.7"/>
<ellipse cx="10.0" cy="29.4" rx="2.9" ry="1.1" fill="#f26878" opacity="0.7"/>
<ellipse cx="17.6" cy="28.7" rx="1.5" ry="1.8" fill="#f6a8a8" opacity="0.7"/>
<ellipse cx="15.7" cy="2.9" rx="2.4" ry="0.9" fill="#f26878" opacity="0.7"/>
</g>
<g filter="url(#bl2)"><circle cx="15.08" cy="15.20" r="14.0" fill="url(#tg43)"/>
<circle cx="15.08" cy="15.20" r="14.0" fill="none" stroke="#f04060" stroke-width="0.8"/></g>
<rect x="11.8" y="6.2" width="7.4" height="3.1" fill="#4a3c3c" opacity="0.85"/>
<rect x="13.200000000000001" y="7.2" width="4.6" height="1.1" fill="#e8e0e0" opacity="0.75"/>
<path d="M8.4,13.6 h6.8 M11.8,10.2 v6.8" stroke="#a4b0bc" stroke-width="1.0" opacity="0.9"/>
</svg>
<svg x="168.16" y="356.60" width="31.7" height="31.6" viewBox="0 0 31.7 31.6" overflow="hidden">
<rect width="31.7" height="31.6" fill="#fcd8c6"/>
<g filter="url(#bl)">
<circle cx="15.84" cy="15.20" r="14.60" fill="none" stroke="#fce4d4" stroke-width="2.4" opacity="0.9"/>
<path d="M0.3,19.2 A16.0,16.0 0 0 0 17.8,31.0" fill="none" stroke="#f4a0a8" stroke-width="1.6" opacity="0.8"/>
<path d="M1,4 Q7,-0.5 17.4,1.8" fill="none" stroke="#f03c64" stroke-width="1.7" opacity="0.85"/>
<ellipse cx="27.7" cy="28.0" rx="1.5" ry="3.3" fill="#f03860" opacity="0.8"/>
<ellipse cx="31.6" cy="21.9" rx="1.5" ry="1.3" fill="#f6a8a8" opacity="0.7"/>
<ellipse cx="29.6" cy="17.7" rx="1.5" ry="1.8" fill="#f590a0" opacity="0.7"/>
<ellipse cx="0.4" cy="22.3" rx="2.3" ry="1.4" fill="#f6a8a8" opacity="0.7"/>
<ellipse cx="1.2" cy="5.7" rx="1.6" ry="1.4" fill="#f590a0" opacity="0.7"/>
<ellipse cx="2.6" cy="1.5" rx="2.1" ry="1.2" fill="#f590a0" opacity="0.7"/>
</g>
<g filter="url(#bl2)"><circle cx="15.84" cy="15.20" r="13.0" fill="url(#tg44)"/>
<circle cx="15.84" cy="15.20" r="13.0" fill="none" stroke="#f4a098" stroke-width="0.8"/></g>
<rect x="11.8" y="6.2" width="7.4" height="3.1" fill="#4a3c3c" opacity="0.85"/>
<rect x="13.200000000000001" y="7.2" width="4.6" height="1.1" fill="#e8e0e0" opacity="0.75"/>
<path d="M8.4,13.6 h6.8 M11.8,10.2 v6.8" stroke="#6a7c8c" stroke-width="1.0" opacity="0.9"/>
</svg>
<svg x="201.40" y="356.60" width="31.7" height="31.6" viewBox="0 0 31.7 31.6" overflow="hidden">
<rect width="31.7" height="31.6" fill="#fcd8c6"/>
<g filter="url(#bl)">
<circle cx="15.00" cy="15.20" r="15.50" fill="none" stroke="#fce4d4" stroke-width="2.4" opacity="0.9"/>
<path d="M-1.4,19.2 A16.9,16.9 0 0 0 17.0,31.9" fill="none" stroke="#f4a0a8" stroke-width="1.6" opacity="0.8"/>
<path d="M1,4 Q7,-0.5 13.7,1.8" fill="none" stroke="#f03c64" stroke-width="1.9" opacity="0.85"/>
<ellipse cx="27.7" cy="28.6" rx="1.5" ry="2.4" fill="#f03860" opacity="0.8"/>
<ellipse cx="0.3" cy="9.3" rx="1.7" ry="1.7" fill="#f6a8a8" opacity="0.7"/>
<ellipse cx="29.6" cy="0.0" rx="3.0" ry="1.8" fill="#f03458" opacity="0.7"/>
<ellipse cx="0.2" cy="17.3" rx="1.2" ry="1.6" fill="#f6a8a8" opacity="0.7"/>
<ellipse cx="0.7" cy="29.6" rx="2.1" ry="1.3" fill="#f6a8a8" opacity="0.7"/>
<ellipse cx="30.0" cy="16.9" rx="1.4" ry="1.4" fill="#f6a8a8" opacity="0.7"/>
</g>
<g filter="url(#bl2)"><circle cx="15.00" cy="15.20" r="13.9" fill="url(#tg45)"/>
<circle cx="15.00" cy="15.20" r="13.9" fill="none" stroke="#f5aca0" stroke-width="0.8"/></g>
<rect x="11.8" y="6.2" width="7.4" height="3.1" fill="#4a3c3c" opacity="0.85"/>
<rect x="13.200000000000001" y="7.2" width="4.6" height="1.1" fill="#e8e0e0" opacity="0.75"/>
<path d="M8.4,13.6 h6.8 M11.8,10.2 v6.8" stroke="#6a7c8c" stroke-width="1.0" opacity="0.9"/>
</svg>
<svg x="35.20" y="391.40" width="31.7" height="31.6" viewBox="0 0 31.7 31.6" overflow="hidden">
<rect width="31.7" height="31.6" fill="#fcd8c6"/>
<g filter="url(#bl)">
<circle cx="16.10" cy="16.60" r="14.30" fill="none" stroke="#fce4d4" stroke-width="2.4" opacity="0.9"/>
<path d="M0.9,20.6 A15.7,15.7 0 0 0 18.1,32.1" fill="none" stroke="#f4a0a8" stroke-width="1.6" opacity="0.8"/>
<path d="M1,4 Q7,-0.5 19.5,1.8" fill="none" stroke="#f03c64" stroke-width="2.3" opacity="0.85"/>
<ellipse cx="27.7" cy="25.3" rx="1.5" ry="3.4" fill="#f03860" opacity="0.8"/>
<ellipse cx="1.0" cy="26.5" rx="1.1" ry="1.8" fill="#f590a0" opacity="0.7"/>
<ellipse cx="19.5" cy="29.1" rx="1.3" ry="0.9" fill="#f26878" opacity="0.7"/>
<ellipse cx="31.4" cy="30.7" rx="1.2" ry="1.3" fill="#f03458" opacity="0.7"/>
<ellipse cx="10.3" cy="30.4" rx="1.6" ry="1.3" fill="#f590a0" opacity="0.7"/>
<ellipse cx="30.6" cy="18.7" rx="2.7" ry="1.6" fill="#f03458" opacity="0.7"/>
</g>
<g filter="url(#bl2)"><circle cx="16.10" cy="16.60" r="12.7" fill="url(#tg50)"/>
<circle cx="16.10" cy="16.60" r="12.7" fill="url(#to50)"/>
<circle cx="16.10" cy="16.60" r="12.7" fill="none" stroke="#f02848" stroke-width="1.6"/></g>
<rect x="15.5" y="12.2" width="7.4" height="3.1" fill="#4a3c3c" opacity="0.85"/>
<rect x="16.9" y="13.2" width="4.6" height="1.1" fill="#e8e0e0" opacity="0.75"/>
<path d="M10.9,20.2 h6.8 M14.3,16.8 v6.8" stroke="#a4b0bc" stroke-width="1.0" opacity="0.9"/>
</svg>
<svg x="68.44" y="391.40" width="31.7" height="31.6" viewBox="0 0 31.7 31.6" overflow="hidden">
<rect width="31.7" height="31.6" fill="#fcd8c6"/>
<g filter="url(#bl)">
<circle cx="14.66" cy="15.60" r="15.50" fill="none" stroke="#fce4d4" stroke-width="2.4" opacity="0.9"/>
<path d="M-1.7,19.6 A16.9,16.9 0 0 0 16.7,32.3" fill="none" stroke="#f4a0a8" stroke-width="1.6" opacity="0.8"/>
<path d="M1,4 Q7,-0.5 15.0,1.8" fill="none" stroke="#f03c64" stroke-width="2.4" opacity="0.85"/>
<ellipse cx="27.7" cy="25.7" rx="1.5" ry="2.2" fill="#f03860" opacity="0.8"/>
<ellipse cx="2.2" cy="10.8" rx="1.6" ry="1.8" fill="#f590a0" opacity="0.7"/>
<ellipse cx="4.1" cy="29.6" rx="3.0" ry="1.3" fill="#f590a0" opacity="0.7"/>
<ellipse cx="31.5" cy="28.8" rx="1.9" ry="1.6" fill="#f6a8a8" opacity="0.7"/>
<ellipse cx="28.9" cy="27.0" rx="1.4" ry="0.9" fill="#f6a8a8" opacity="0.7"/>
<ellipse cx="0.2" cy="15.6" rx="1.9" ry="1.7" fill="#f26878" opacity="0.7"/>
</g>
<g filter="url(#bl2)"><circle cx="14.66" cy="15.60" r="13.9" fill="url(#tg51)"/>
<circle cx="14.66" cy="15.60" r="13.9" fill="none" stroke="#f02848" stroke-width="1.6"/></g>
<rect x="15.5" y="12.2" width="7.4" height="3.1" fill="#4a3c3c" opacity="0.85"/>
<rect x="16.9" y="13.2" width="4.6" height="1.1" fill="#e8e0e0" opacity="0.75"/>
<path d="M10.9,20.2 h6.8 M14.3,16.8 v6.8" stroke="#a4b0bc" stroke-width="1.0" opacity="0.9"/>
</svg>
<svg x="101.68" y="391.40" width="31.7" height="31.6" viewBox="0 0 31.7 31.6" overflow="hidden">
<rect width="31.7" height="31.6" fill="#fcd8c6"/>
<g filter="url(#bl)">
<circle cx="15.12" cy="15.60" r="15.80" fill="none" stroke="#fce4d4" stroke-width="2.4" opacity="0.9"/>
<path d="M-1.6,19.6 A17.2,17.2 0 0 0 17.1,32.6" fill="none" stroke="#f4a0a8" stroke-width="1.6" opacity="0.8"/>
<path d="M1,4 Q7,-0.5 18.0,1.8" fill="none" stroke="#f03c64" stroke-width="1.9" opacity="0.85"/>
<ellipse cx="27.7" cy="25.8" rx="1.5" ry="2.8" fill="#f03860" opacity="0.8"/>
<ellipse cx="13.9" cy="31.3" rx="2.2" ry="0.9" fill="#f26878" opacity="0.7"/>
<ellipse cx="0.0" cy="2.0" rx="1.3" ry="0.9" fill="#f26878" opacity="0.7"/>
<ellipse cx="30.0" cy="6.2" rx="2.1" ry="1.7" fill="#f26878" opacity="0.7"/>
<ellipse cx="23.4" cy="31.1" rx="1.9" ry="1.5" fill="#f590a0" opacity="0.7"/>
<ellipse cx="16.2" cy="2.8" rx="2.0" ry="1.7" fill="#f590a0" opacity="0.7"/>
</g>
<g filter="url(#bl2)"><circle cx="15.12" cy="15.60" r="14.2" fill="url(#tg52)"/>
<circle cx="15.12" cy="15.60" r="14.2" fill="none" stroke="#f47888" stroke-width="0.8"/></g>
<rect x="15.5" y="12.2" width="7.4" height="3.1" fill="#4a3c3c" opacity="0.85"/>
<rect x="16.9" y="13.2" width="4.6" height="1.1" fill="#e8e0e0" opacity="0.75"/>
<path d="M10.9,20.2 h6.8 M14.3,16.8 v6.8" stroke="#a4b0bc" stroke-width="1.0" opacity="0.9"/>
</svg>
<svg x="134.92" y="391.40" width="31.7" height="31.6" viewBox="0 0 31.7 31.6" overflow="hidden">
<rect width="31.7" height="31.6" fill="#fcd8c6"/>
<g filter="url(#bl)">
<circle cx="15.08" cy="15.60" r="15.60" fill="none" stroke="#fce4d4" stroke-width="2.4" opacity="0.9"/>
<path d="M-1.4,19.6 A17.0,17.0 0 0 0 17.1,32.4" fill="none" stroke="#f4a0a8" stroke-width="1.6" opacity="0.8"/>
<path d="M1,4 Q7,-0.5 15.0,1.8" fill="none" stroke="#f03c64" stroke-width="1.8" opacity="0.85"/>
<ellipse cx="27.7" cy="27.9" rx="1.5" ry="2.9" fill="#f03860" opacity="0.8"/>
<ellipse cx="13.7" cy="2.4" rx="1.0" ry="1.6" fill="#f6a8a8" opacity="0.7"/>
<ellipse cx="1.4" cy="4.4" rx="2.0" ry="1.2" fill="#f590a0" opacity="0.7"/>
<ellipse cx="30.0" cy="3.1" rx="1.1" ry="1.7" fill="#f26878" opacity="0.7"/>
<ellipse cx="28.9" cy="0.3" rx="2.8" ry="1.4" fill="#f6a8a8" opacity="0.7"/>
<ellipse cx="26.2" cy="1.0" rx="2.8" ry="1.0" fill="#f6a8a8" opacity="0.7"/>
</g>
<g filter="url(#bl2)"><circle cx="15.08" cy="15.60" r="14.0" fill="url(#tg53)"/>
<circle cx="15.08" cy="15.60" r="14.0" fill="none" stroke="#f6b8ac" stroke-width="0.8"/></g>
<rect x="15.5" y="12.2" width="7.4" height="3.1" fill="#4a3c3c" opacity="0.85"/>
<rect x="16.9" y="13.2" width="4.6" height="1.1" fill="#e8e0e0" opacity="0.75"/>
<path d="M10.9,20.2 h6.8 M14.3,16.8 v6.8" stroke="#6a7c8c" stroke-width="1.0" opacity="0.9"/>
</svg>
<svg x="168.16" y="391.40" width="31.7" height="31.6" viewBox="0 0 31.7 31.6" overflow="hidden">
<rect width="31.7" height="31.6" fill="#fcd8c6"/>
<g filter="url(#bl)">
<circle cx="15.34" cy="15.60" r="15.60" fill="none" stroke="#fce4d4" stroke-width="2.4" opacity="0.9"/>
<path d="M-1.2,19.6 A17.0,17.0 0 0 0 17.3,32.4" fill="none" stroke="#f4a0a8" stroke-width="1.6" opacity="0.8"/>
<path d="M1,4 Q7,-0.5 15.3,1.8" fill="none" stroke="#f03c64" stroke-width="2.1" opacity="0.85"/>
<ellipse cx="27.7" cy="28.4" rx="1.5" ry="2.1" fill="#f03860" opacity="0.8"/>
<ellipse cx="28.6" cy="1.5" rx="2.1" ry="0.9" fill="#f590a0" opacity="0.7"/>
<ellipse cx="2.5" cy="26.0" rx="1.6" ry="1.8" fill="#f6a8a8" opacity="0.7"/>
<ellipse cx="0.6" cy="9.4" rx="2.2" ry="1.2" fill="#f590a0" opacity="0.7"/>
<ellipse cx="29.6" cy="27.2" rx="1.9" ry="1.5" fill="#f590a0" opacity="0.7"/>
<ellipse cx="30.6" cy="15.6" rx="1.4" ry="0.9" fill="#f590a0" opacity="0.7"/>
</g>
<g filter="url(#bl2)"><circle cx="15.34" cy="15.60" r="14.0" fill="url(#tg54)"/>
<circle cx="15.34" cy="15.60" r="14.0" fill="none" stroke="#f7bcae" stroke-width="0.8"/></g>
<rect x="15.5" y="12.2" width="7.4" height="3.1" fill="#4a3c3c" opacity="0.85"/>
<rect x="16.9" y="13.2" width="4.6" height="1.1" fill="#e8e0e0" opacity="0.75"/>
<path d="M10.9,20.2 h6.8 M14.3,16.8 v6.8" stroke="#6a7c8c" stroke-width="1.0" opacity="0.9"/>
</svg>
<svg x="201.40" y="391.40" width="31.7" height="31.6" viewBox="0 0 31.7 31.6" overflow="hidden">
<rect width="31.7" height="31.6" fill="#fcd8c6"/>
<g filter="url(#bl)">
<circle cx="15.10" cy="15.60" r="15.60" fill="none" stroke="#fce4d4" stroke-width="2.4" opacity="0.9"/>
<path d="M-1.4,19.6 A17.0,17.0 0 0 0 17.1,32.4" fill="none" stroke="#f4a0a8" stroke-width="1.6" opacity="0.8"/>
<path d="M1,4 Q7,-0.5 16.2,1.8" fill="none" stroke="#f03c64" stroke-width="2.3" opacity="0.85"/>
<ellipse cx="27.7" cy="26.6" rx="1.5" ry="3.3" fill="#f03860" opacity="0.8"/>
<ellipse cx="29.3" cy="1.2" rx="1.5" ry="1.7" fill="#f6a8a8" opacity="0.7"/>
<ellipse cx="7.5" cy="1.1" rx="1.4" ry="1.1" fill="#f590a0" opacity="0.7"/>
<ellipse cx="28.9" cy="30.5" rx="1.4" ry="1.1" fill="#f26878" opacity="0.7"/>
<ellipse cx="1.7" cy="7.8" rx="1.4" ry="1.5" fill="#f590a0" opacity="0.7"/>
<ellipse cx="0.5" cy="23.7" rx="2.2" ry="1.2" fill="#f6a8a8" opacity="0.7"/>
</g>
<g filter="url(#bl2)"><circle cx="15.10" cy="15.60" r="14.0" fill="url(#tg55)"/>
<circle cx="15.10" cy="15.60" r="14.0" fill="none" stroke="#f8c0b2" stroke-width="0.8"/></g>
<rect x="15.5" y="12.2" width="7.4" height="3.1" fill="#4a3c3c" opacity="0.85"/>
<rect x="16.9" y="13.2" width="4.6" height="1.1" fill="#e8e0e0" opacity="0.75"/>
<path d="M10.9,20.2 h6.8 M14.3,16.8 v6.8" stroke="#6a7c8c" stroke-width="1.0" opacity="0.9"/>
</svg>
<defs><linearGradient id="cbar" x1="0" y1="0" x2="0" y2="1"><stop offset="0" stop-color="#fde0cc"/><stop offset="0.085" stop-color="#f8a8a8"/><stop offset="0.2" stop-color="#f04868"/><stop offset="0.31" stop-color="#f01838"/><stop offset="0.355" stop-color="#f07020"/><stop offset="0.41" stop-color="#f0a000"/><stop offset="0.48" stop-color="#f0c800"/><stop offset="0.565" stop-color="#a0c800"/><stop offset="0.65" stop-color="#10a030"/><stop offset="0.725" stop-color="#108080"/><stop offset="0.8" stop-color="#1070e0"/><stop offset="0.875" stop-color="#0040a0"/><stop offset="0.96" stop-color="#000050"/><stop offset="1" stop-color="#000040"/></linearGradient></defs>
<rect x="252.3" y="230.5" width="7.2" height="176.6" fill="url(#cbar)"/>
<text x="256.00" y="226.60" font-size="5" text-anchor="middle" fill="#222" font-weight="bold" >90°C</text>
<text x="256.00" y="414.80" font-size="5" text-anchor="middle" fill="#222" font-weight="bold" >20°C</text>
</svg></body></html>
